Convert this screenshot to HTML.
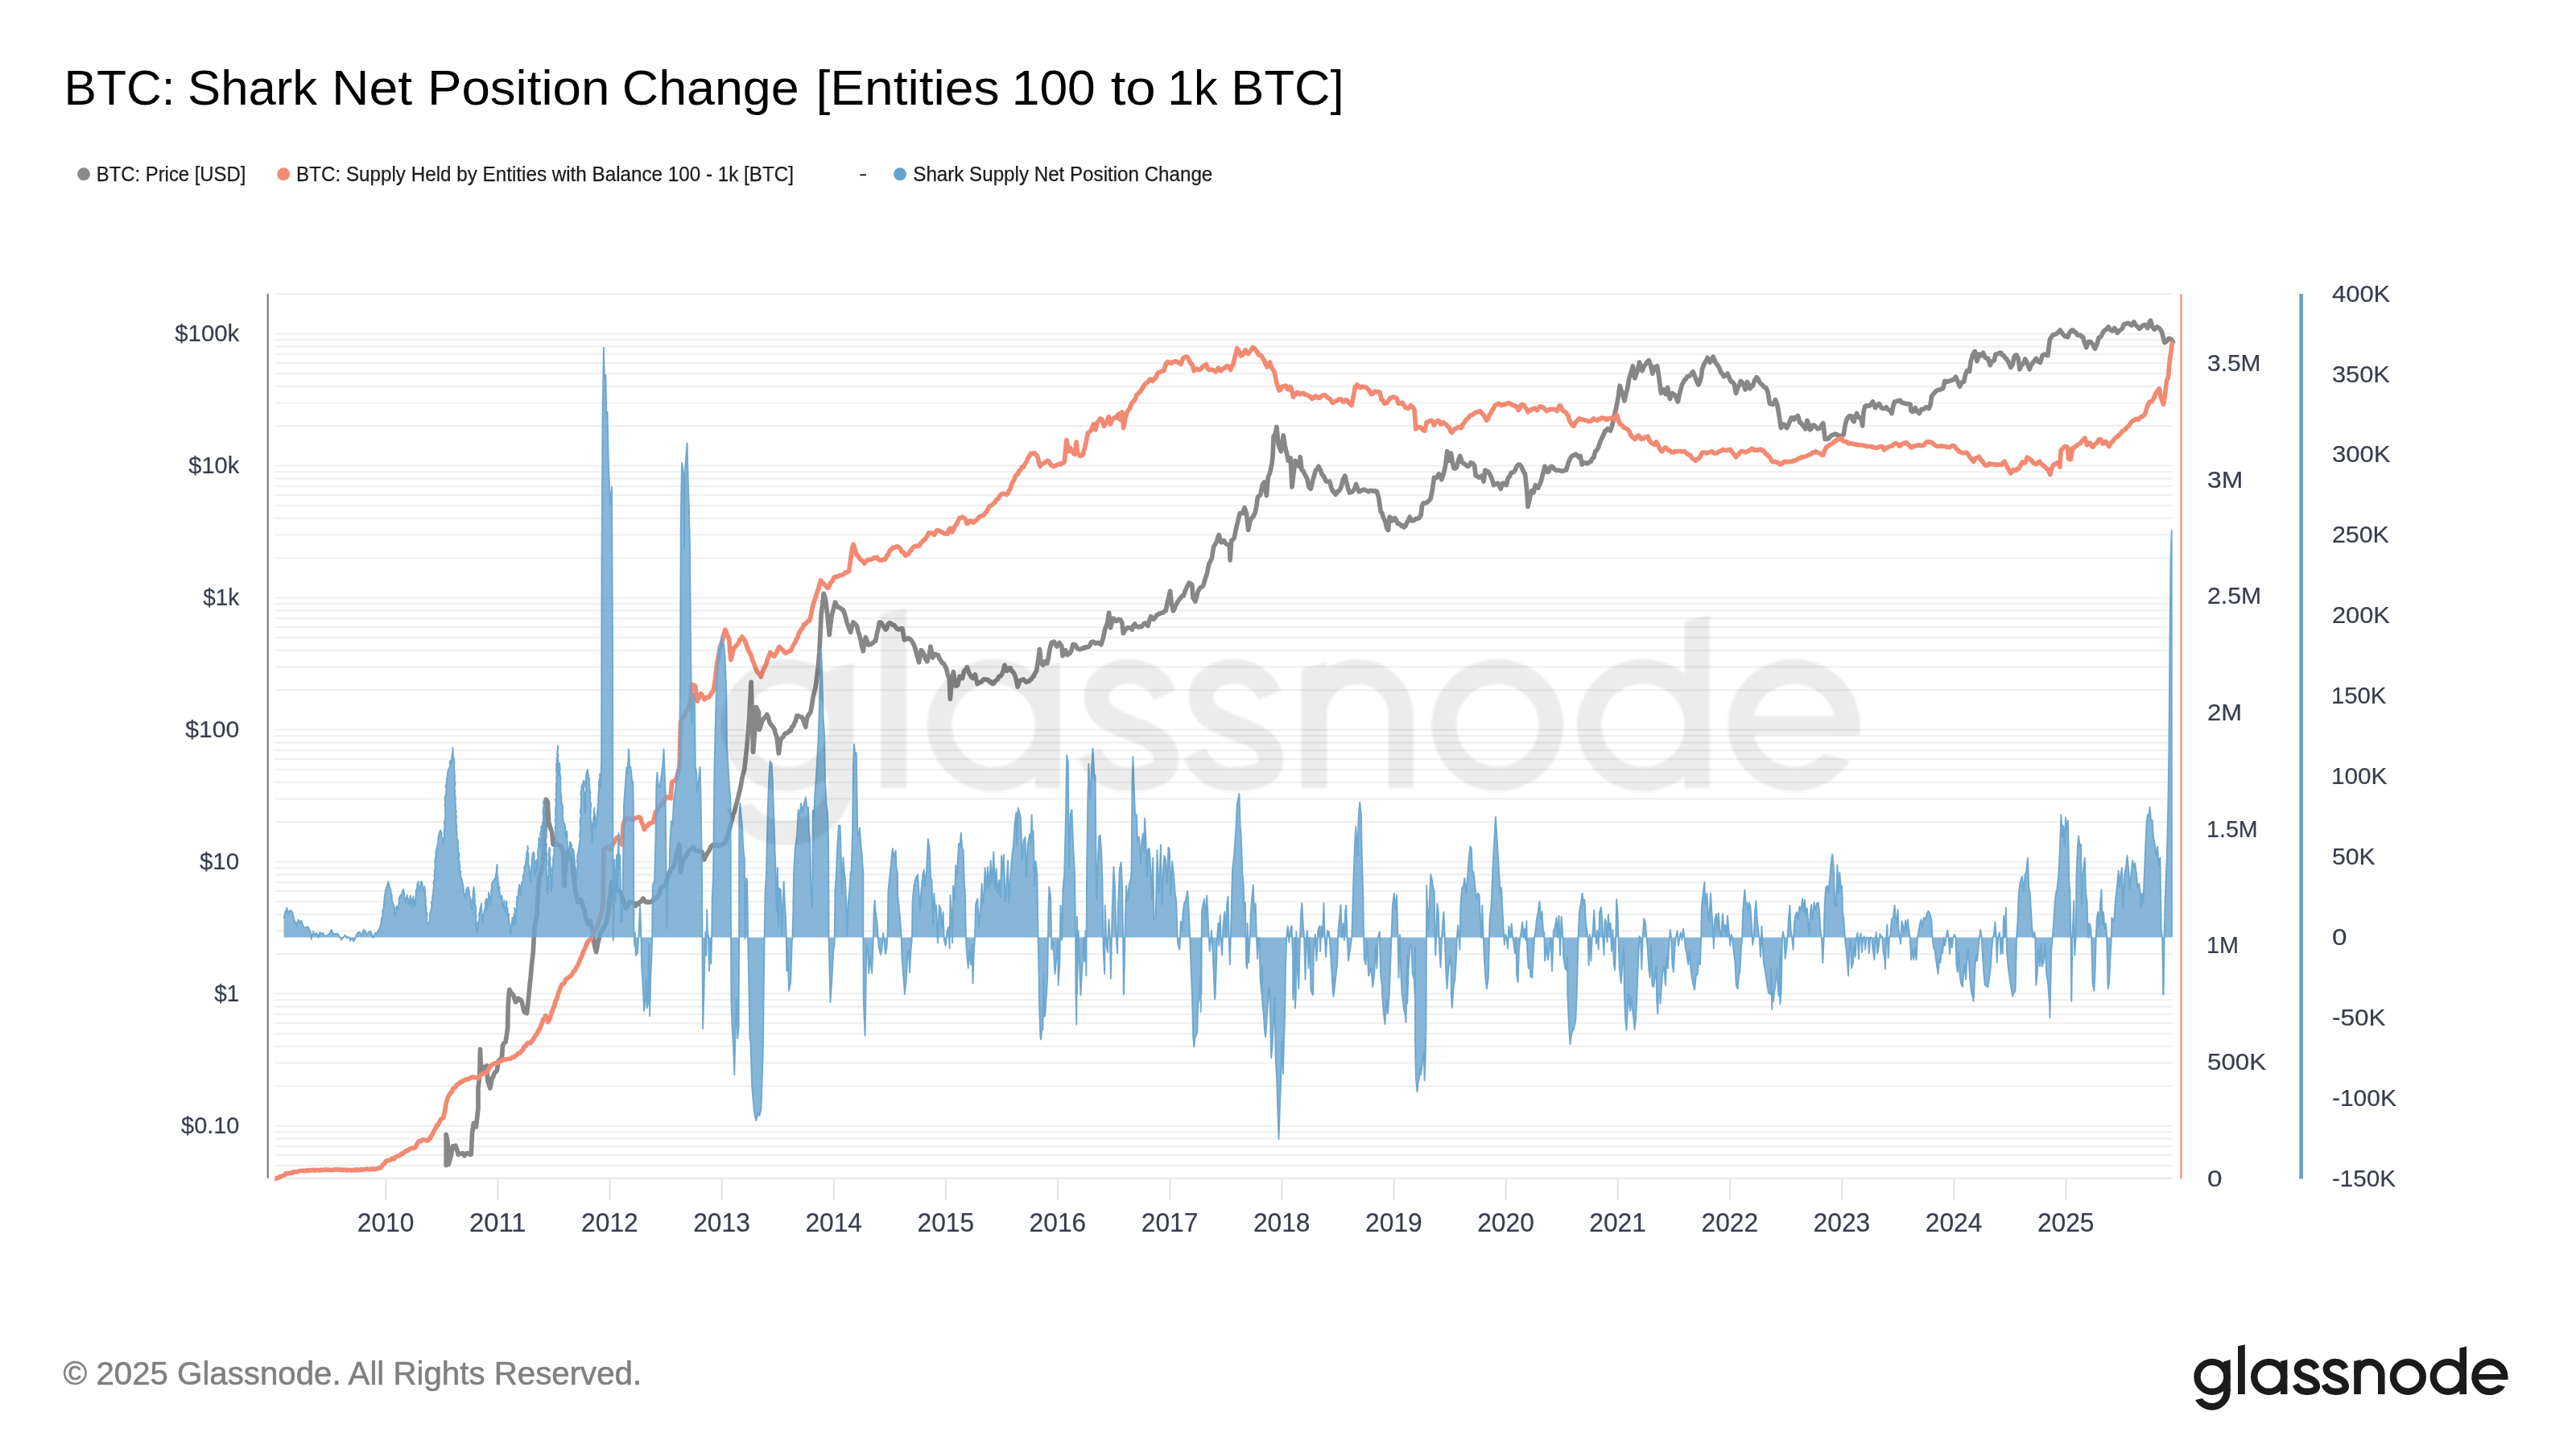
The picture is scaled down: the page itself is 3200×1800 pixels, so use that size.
<!DOCTYPE html>
<html><head><meta charset="utf-8"><title>BTC: Shark Net Position Change</title>
<style>html,body{margin:0;padding:0;background:#fff;width:3200px;height:1800px;overflow:hidden}</style></head>
<body>
<svg width="3200" height="1800" viewBox="0 0 3200 1800" style="display:block;font-family:'Liberation Sans',sans-serif;will-change:transform;transform:translateZ(0)">
<rect width="3200" height="1800" fill="#fff"/>
<path d="M341.3 1448.0H2698.6M341.3 1435.0H2698.6M341.3 1424.0H2698.6M341.3 1414.5H2698.6M341.3 1406.1H2698.6M341.3 1398.6H2698.6M341.3 1349.2H2698.6M341.3 1320.4H2698.6M341.3 1299.9H2698.6M341.3 1284.0H2698.6M341.3 1271.0H2698.6M341.3 1260.0H2698.6M341.3 1250.5H2698.6M341.3 1242.1H2698.6M341.3 1234.6H2698.6M341.3 1185.2H2698.6M341.3 1156.4H2698.6M341.3 1135.9H2698.6M341.3 1120.0H2698.6M341.3 1107.0H2698.6M341.3 1096.0H2698.6M341.3 1086.5H2698.6M341.3 1078.1H2698.6M341.3 1070.6H2698.6M341.3 1021.2H2698.6M341.3 992.4H2698.6M341.3 971.9H2698.6M341.3 956.0H2698.6M341.3 943.0H2698.6M341.3 932.0H2698.6M341.3 922.5H2698.6M341.3 914.1H2698.6M341.3 906.6H2698.6M341.3 857.2H2698.6M341.3 828.4H2698.6M341.3 807.9H2698.6M341.3 792.0H2698.6M341.3 779.0H2698.6M341.3 768.0H2698.6M341.3 758.5H2698.6M341.3 750.1H2698.6M341.3 742.6H2698.6M341.3 693.2H2698.6M341.3 664.4H2698.6M341.3 643.9H2698.6M341.3 628.0H2698.6M341.3 615.0H2698.6M341.3 604.0H2698.6M341.3 594.5H2698.6M341.3 586.1H2698.6M341.3 578.6H2698.6M341.3 529.2H2698.6M341.3 500.4H2698.6M341.3 479.9H2698.6M341.3 464.0H2698.6M341.3 451.0H2698.6M341.3 440.0H2698.6M341.3 430.5H2698.6M341.3 422.1H2698.6M341.3 414.6H2698.6M341.3 365.2H2698.6" stroke="#f1f1f1" stroke-width="2.4" fill="none"/>
<path d="M341.3 1463.6H2698.6" stroke="#e3e3e3" stroke-width="1.9" fill="none"/>
<defs><clipPath id="plotclip"><rect x="341.3" y="300" width="2366" height="1200"/></clipPath></defs>
<g clip-path="url(#plotclip)">
<path d="M554.2 1447.5L554.2 1409.3L556.1 1418.6L557.3 1446.5L558.9 1440.1L560.4 1435.7L562.3 1423.9L564.2 1423.6L566.0 1423.2L567.6 1428.2L569.1 1434.1L570.7 1433.8L572.2 1433.3L573.8 1432.5L575.3 1432.8L576.9 1435.7L578.9 1432.8L580.9 1432.5L583.1 1433.9L585.3 1434.1L586.5 1407.7L588.4 1395.3L589.9 1396.7L591.5 1399.9L594.0 1376.6L594.0 1351.8L595.8 1336.3L596.5 1303.7L597.7 1333.2L599.3 1328.3L600.8 1325.4L602.8 1325.6L604.8 1323.9L605.8 1342.5L607.3 1347.0L608.9 1351.8L611.1 1339.4L612.6 1337.5L614.2 1333.2L615.7 1331.5L617.3 1330.1L619.4 1317.6L621.5 1315.8L623.5 1313.0L624.4 1299.0L626.3 1295.5L628.1 1294.3L630.6 1277.3L631.2 1249.3L631.9 1238.6L632.8 1229.3L634.3 1231.8L635.9 1234.7L637.5 1235.5L639.0 1240.2L640.6 1244.8L642.1 1243.3L643.7 1240.1L645.2 1242.2L646.8 1241.9L648.3 1244.8L649.9 1251.9L651.4 1257.2L653.0 1258.2L654.5 1258.8L656.1 1244.8L657.6 1228.5L659.2 1213.7L660.7 1196.5L662.3 1182.7L663.9 1151.6L665.4 1145.2L667.0 1136.1L668.5 1108.1L670.1 1089.5L671.6 1084.7L673.2 1080.2L675.3 1058.4L677.2 1027.4L678.4 993.2L680.3 996.3L681.6 1021.2L683.4 1027.4L685.6 1033.6L687.1 1049.1L688.7 1049.0L690.2 1048.8L691.8 1047.6L693.4 1049.1L694.9 1050.7L696.5 1050.7L698.0 1054.2L699.6 1058.4L701.1 1100.4L702.7 1074.0L704.2 1067.3L705.8 1058.4L707.3 1061.4L708.9 1066.2L710.4 1067.8L712.6 1089.5L715.1 1108.1L717.6 1120.6L719.4 1120.0L721.3 1117.5L722.9 1120.7L724.4 1126.8L726.0 1131.7L727.5 1139.2L729.1 1142.8L730.6 1148.5L733.1 1143.9L734.7 1151.0L736.2 1154.7L738.4 1173.4L740.6 1182.7L743.0 1170.2L744.6 1163.8L746.1 1157.8L747.7 1156.2L749.3 1153.0L750.8 1151.6L752.4 1147.8L753.9 1143.9L756.1 1129.9L758.6 1108.1L760.1 1095.7L761.7 1096.9L763.2 1098.8L764.8 1101.4L766.3 1105.0L768.4 1106.8L770.4 1108.1L772.2 1113.1L774.1 1117.5L775.7 1124.3L777.2 1128.3L778.8 1126.4L780.3 1124.7L781.9 1120.6L783.4 1121.0L785.0 1121.1L786.5 1120.6L788.1 1123.5L789.6 1125.2L791.2 1122.7L792.7 1123.2L794.3 1120.6L795.8 1120.4L797.4 1118.7L798.9 1115.9L800.5 1118.5L802.0 1120.6L803.6 1120.8L805.2 1120.2L806.7 1121.0L808.3 1120.6L809.8 1119.7L811.4 1118.0L812.9 1117.5L814.5 1114.6L816.0 1115.4L817.6 1112.8L819.1 1109.9L820.7 1103.5L822.2 1101.3L823.8 1101.9L825.3 1099.8L826.9 1098.8L828.4 1092.9L830.0 1089.5L831.6 1084.1L833.1 1080.2L834.7 1079.1L836.2 1077.4L837.8 1074.0L839.3 1064.6L840.9 1058.4L842.4 1054.2L844.0 1049.1L845.5 1083.3L848.0 1070.9L849.9 1066.1L851.7 1064.7L853.3 1062.3L854.8 1057.8L856.4 1055.3L858.0 1055.2L859.5 1054.4L861.1 1052.2L862.6 1053.8L864.2 1056.8L865.7 1056.9L867.3 1057.0L868.8 1057.0L870.4 1058.2L871.9 1058.4L873.5 1061.4L875.0 1067.8L876.6 1063.6L878.1 1061.2L879.7 1058.4L881.2 1056.3L882.8 1052.0L884.3 1050.7L885.9 1049.3L887.5 1050.3L889.0 1049.1L890.6 1049.2L892.1 1050.7L893.7 1050.9L895.2 1050.7L896.8 1049.2L898.3 1048.3L899.9 1047.2L901.4 1046.0L903.0 1041.4L904.5 1036.0L906.1 1030.5L907.6 1024.5L909.2 1018.5L910.7 1011.9L912.3 1008.3L913.9 1001.5L915.4 996.3L917.0 989.9L918.5 983.9L920.1 976.9L921.6 968.4L923.2 961.2L924.7 956.0L926.3 941.3L927.8 928.0L929.4 909.5L930.9 887.6L933.1 847.3L935.6 934.2L938.1 903.2L939.3 878.3L940.9 881.5L942.4 884.5L943.4 906.3L944.9 902.3L946.5 896.2L948.0 893.9L949.6 891.5L951.1 890.0L952.7 887.6L954.2 890.6L955.8 897.0L957.3 899.4L958.9 901.6L960.4 903.2L962.0 905.7L963.5 911.9L965.1 915.6L967.3 935.8L969.8 918.7L971.3 916.6L972.9 915.4L974.4 912.4L976.0 910.9L977.5 910.6L979.1 909.9L980.6 907.6L982.2 907.8L983.7 903.1L985.3 902.2L986.8 898.5L988.4 895.5L989.9 889.2L991.5 889.2L993.0 889.9L994.6 890.5L996.1 890.7L997.7 894.2L999.3 898.5L1000.8 903.2L1002.4 892.3L1003.9 889.0L1005.5 886.7L1007.0 884.5L1008.6 875.6L1010.1 865.9L1011.7 859.0L1013.2 853.5L1014.8 840.6L1016.3 828.6L1017.9 810.0L1020.1 763.7L1021.6 751.5L1023.2 737.3L1025.7 745.1L1028.1 766.8L1030.3 788.6L1031.9 774.4L1033.4 763.7L1035.4 756.2L1037.5 748.2L1039.3 752.2L1041.2 754.4L1042.7 754.8L1044.3 755.4L1045.8 757.4L1047.4 757.5L1048.9 761.8L1050.5 766.7L1052.0 773.0L1053.6 777.0L1055.2 782.0L1056.7 785.5L1058.3 777.8L1059.8 773.0L1061.4 774.1L1062.9 775.7L1064.5 777.7L1066.0 784.6L1067.6 788.9L1069.1 794.8L1070.7 803.1L1072.2 808.8L1073.8 799.0L1075.3 791.7L1076.9 795.7L1078.4 801.0L1080.0 800.7L1081.6 800.7L1083.1 799.4L1084.7 798.3L1086.2 796.7L1087.8 796.3L1089.3 787.2L1090.9 780.9L1092.4 773.0L1094.0 773.2L1095.5 774.6L1097.1 778.0L1098.6 779.3L1100.0 782.1L1101.6 780.6L1103.1 775.5L1104.7 773.9L1106.6 774.3L1108.5 776.1L1110.5 776.3L1112.4 778.6L1114.4 781.1L1116.3 782.1L1117.9 781.4L1119.4 780.7L1121.0 780.9L1123.3 794.9L1124.8 793.7L1126.4 794.0L1128.0 792.6L1129.5 793.1L1131.1 794.5L1132.6 796.1L1134.4 799.3L1136.1 803.0L1138.4 811.2L1139.9 816.7L1141.5 822.8L1144.3 807.7L1146.0 809.7L1147.7 812.4L1149.7 818.5L1151.7 821.7L1153.2 815.8L1154.7 812.4L1155.9 803.0L1158.7 817.0L1160.2 812.9L1161.7 812.4L1163.5 813.7L1165.2 813.5L1167.0 818.4L1168.7 820.5L1170.5 823.7L1172.2 824.0L1174.0 827.3L1175.7 831.0L1177.4 838.4L1179.2 842.6L1180.4 868.3L1182.0 849.6L1184.3 834.5L1186.6 852.0L1188.2 852.2L1189.7 850.8L1192.0 840.3L1193.8 840.8L1195.5 842.6L1197.8 833.3L1199.6 831.9L1201.3 828.7L1203.1 834.5L1204.8 838.0L1206.6 840.9L1208.3 842.6L1209.8 840.4L1211.3 838.0L1214.1 849.6L1215.7 848.4L1217.2 847.7L1218.8 847.3L1220.3 845.4L1221.9 843.9L1223.4 843.8L1225.0 844.3L1226.6 844.2L1228.1 845.0L1229.7 847.5L1231.2 846.7L1232.8 849.6L1234.3 849.3L1235.9 847.1L1237.4 845.0L1239.2 844.2L1240.9 840.3L1242.7 840.1L1244.4 838.0L1246.2 833.6L1247.9 826.3L1249.4 830.1L1250.9 833.3L1253.7 829.8L1255.3 829.9L1256.8 833.7L1258.4 834.5L1260.1 837.4L1261.9 842.6L1264.2 853.1L1266.0 848.3L1267.7 845.0L1269.4 844.7L1271.2 843.8L1272.9 845.6L1274.7 847.3L1276.2 846.3L1277.8 846.7L1279.3 845.0L1280.9 843.8L1282.5 841.4L1284.0 840.3L1285.8 835.9L1287.5 833.3L1289.8 819.3L1291.5 806.5L1293.3 824.0L1295.7 826.3L1298.0 821.7L1300.8 824.0L1302.3 817.2L1303.8 807.7L1306.1 798.4L1307.9 797.8L1309.6 797.2L1311.4 801.1L1313.1 803.0L1314.6 800.2L1316.1 798.4L1318.9 803.0L1320.1 814.7L1321.9 810.1L1323.6 807.7L1325.9 813.5L1327.7 812.4L1329.4 811.2L1331.2 807.1L1332.9 800.7L1334.7 800.7L1336.4 801.9L1338.2 805.3L1339.9 806.5L1341.5 806.8L1343.0 806.3L1344.6 805.4L1346.1 805.5L1347.7 803.8L1349.2 804.2L1350.8 803.7L1352.3 803.4L1353.9 801.9L1355.6 797.9L1357.4 797.2L1359.1 797.8L1360.9 799.5L1362.6 798.6L1364.4 798.4L1366.1 799.6L1367.9 800.7L1370.2 793.7L1372.5 782.1L1375.3 775.1L1377.6 761.1L1379.5 779.8L1381.2 773.7L1383.0 768.1L1384.7 769.8L1386.5 771.6L1388.2 771.1L1390.0 769.3L1392.0 769.9L1393.9 773.9L1395.3 786.7L1398.1 782.1L1399.7 780.4L1401.2 779.7L1402.8 779.8L1404.5 780.0L1406.3 782.1L1408.0 777.0L1409.8 775.1L1411.5 778.3L1413.3 778.6L1414.8 779.0L1416.4 778.1L1417.9 778.6L1419.5 777.0L1421.0 774.9L1422.6 773.9L1424.3 775.1L1426.1 777.4L1427.8 771.1L1429.6 765.8L1431.3 768.0L1433.1 769.3L1434.8 767.3L1436.6 764.6L1438.1 763.5L1439.7 762.4L1441.2 762.3L1443.0 761.4L1444.7 761.1L1446.5 759.1L1448.2 758.8L1450.5 747.1L1452.1 740.9L1453.6 734.3L1455.2 749.5L1457.5 758.8L1459.0 756.1L1460.6 751.8L1463.4 747.1L1465.1 744.4L1466.8 742.5L1468.6 740.3L1470.3 740.2L1472.1 734.3L1473.8 730.8L1475.6 726.9L1477.3 723.9L1479.1 725.3L1480.8 726.2L1482.0 742.5L1484.8 747.1L1486.3 742.3L1487.8 735.5L1489.6 732.2L1491.3 729.7L1493.1 729.2L1494.8 727.3L1497.1 719.2L1499.5 712.2L1501.8 700.6L1503.5 697.5L1505.3 693.6L1507.6 679.6L1509.4 676.4L1511.1 673.8L1512.6 668.7L1514.1 664.5L1516.9 673.8L1518.7 672.6L1520.4 671.4L1522.2 674.5L1523.9 676.1L1525.7 677.1L1527.4 678.4L1528.1 695.9L1529.7 671.4L1531.5 670.3L1533.2 668.0L1535.6 656.3L1537.9 647.0L1540.2 637.6L1542.0 637.5L1543.7 637.6L1546.0 630.6L1548.4 637.6L1550.7 658.5L1553.0 646.9L1554.8 643.6L1556.5 642.2L1559.3 636.4L1561.2 625.9L1562.3 617.8L1564.1 616.1L1565.8 614.3L1568.2 602.6L1570.5 599.1L1573.3 615.5L1575.2 593.3L1577.5 587.5L1579.8 577.0L1581.0 567.7L1582.1 542.1L1584.0 539.8L1585.9 530.4L1588.0 551.4L1589.7 556.8L1591.5 560.7L1594.3 540.9L1596.1 553.7L1598.4 563.0L1600.3 572.4L1603.1 568.9L1605.0 605.0L1606.6 591.0L1608.9 572.4L1611.3 574.7L1613.6 579.3L1615.2 567.7L1617.1 584.0L1618.8 584.8L1620.6 588.7L1622.3 591.9L1624.1 595.7L1625.9 605.0L1628.3 607.3L1631.1 595.7L1632.8 589.6L1634.5 584.0L1636.3 583.0L1638.0 579.3L1640.4 584.0L1642.1 589.1L1643.9 591.0L1645.6 594.0L1647.4 598.0L1649.5 598.5L1651.6 598.0L1654.3 607.3L1655.9 610.7L1657.5 611.1L1659.0 614.3L1660.6 612.6L1662.1 610.0L1663.7 609.6L1666.0 605.0L1668.3 595.7L1670.7 591.0L1673.0 600.3L1674.7 607.3L1676.5 612.0L1678.0 611.5L1679.6 611.2L1681.1 609.6L1682.9 606.6L1684.6 601.5L1686.4 606.7L1688.1 610.8L1689.7 610.5L1691.2 609.4L1692.8 608.5L1694.7 608.2L1696.7 609.4L1698.6 609.6L1700.0 610.8L1701.6 609.6L1703.1 609.4L1704.7 609.6L1706.6 610.4L1708.5 609.7L1710.5 610.8L1712.8 618.9L1715.1 635.2L1716.7 637.3L1718.2 642.2L1720.5 646.9L1722.8 656.2L1724.5 658.5L1726.1 642.2L1727.6 643.1L1729.1 646.9L1730.9 646.3L1732.6 643.4L1734.4 645.7L1736.1 650.4L1737.8 650.1L1739.6 651.6L1741.1 653.6L1742.7 652.9L1744.3 655.0L1746.0 653.4L1747.7 649.2L1749.5 646.4L1751.2 642.2L1753.6 646.9L1755.1 646.8L1756.7 646.3L1758.2 644.6L1759.8 644.3L1761.3 644.3L1762.9 643.4L1765.2 639.9L1766.4 628.3L1768.1 625.1L1769.9 624.8L1771.6 624.7L1773.4 623.6L1775.1 621.9L1776.9 620.1L1779.2 609.6L1781.5 593.3L1783.3 593.6L1785.0 593.3L1787.3 588.7L1789.1 590.7L1790.8 595.7L1793.2 588.7L1795.5 579.3L1797.8 560.7L1800.2 572.4L1802.5 563.0L1804.2 573.3L1806.0 581.7L1807.7 581.9L1809.5 580.5L1811.6 571.9L1813.7 566.5L1816.5 574.7L1818.2 575.4L1820.0 577.0L1821.7 578.3L1823.4 579.3L1825.2 578.2L1826.9 574.7L1828.5 575.2L1830.0 576.2L1831.6 578.2L1833.2 591.0L1835.3 591.6L1837.4 593.3L1839.2 592.4L1840.9 591.0L1843.2 598.0L1844.9 584.0L1847.0 585.7L1849.1 586.3L1850.8 589.4L1852.6 593.3L1854.1 597.5L1855.6 602.6L1857.3 601.7L1859.0 600.8L1860.7 600.3L1862.5 603.5L1864.2 607.3L1866.5 600.3L1868.1 600.2L1869.6 601.9L1871.2 602.6L1873.5 593.3L1875.3 592.1L1877.0 587.5L1878.8 586.8L1880.5 586.3L1882.3 583.7L1884.0 579.3L1886.3 577.0L1888.1 577.4L1889.8 579.3L1891.4 583.1L1892.9 586.5L1894.5 588.7L1896.8 609.6L1898.0 629.4L1900.3 618.9L1902.6 609.6L1905.0 612.0L1907.3 602.6L1909.0 604.9L1910.8 606.1L1912.5 602.1L1914.3 598.0L1916.0 590.9L1917.8 584.0L1918.9 579.3L1920.7 583.4L1922.4 586.3L1924.0 585.4L1925.5 580.4L1927.1 579.3L1928.8 579.9L1930.6 582.8L1932.1 583.6L1933.7 584.3L1935.2 584.0L1936.8 584.4L1938.4 584.7L1939.9 585.2L1941.8 585.1L1943.8 583.9L1945.7 584.0L1947.5 577.3L1949.2 572.4L1951.6 567.7L1953.5 565.9L1955.4 565.6L1957.4 564.2L1959.1 565.4L1960.9 567.7L1963.2 566.5L1965.1 577.0L1967.9 574.7L1969.6 574.8L1971.4 575.9L1973.1 575.1L1974.8 573.5L1976.4 573.3L1978.0 569.8L1979.5 568.9L1981.8 560.7L1983.6 559.1L1985.3 556.1L1987.7 549.1L1989.4 545.3L1991.1 542.1L1993.9 535.1L1995.5 534.8L1997.0 532.8L1998.7 534.1L2000.5 535.1L2002.8 528.1L2005.1 518.8L2006.9 509.8L2008.6 502.5L2010.2 493.2L2012.1 479.2L2014.4 486.2L2016.2 491.0L2017.9 497.8L2019.7 489.1L2021.4 483.9L2023.8 469.9L2026.1 462.9L2028.4 454.7L2030.7 469.9L2032.5 465.1L2034.2 460.6L2036.6 450.1L2038.3 454.9L2040.1 460.6L2041.8 455.9L2043.6 453.6L2045.1 451.1L2046.7 449.1L2048.2 447.7L2050.5 453.6L2052.9 464.1L2055.2 455.9L2056.9 455.8L2058.7 454.7L2061.0 469.9L2063.4 488.5L2065.1 484.9L2066.8 483.9L2069.2 489.7L2071.5 481.5L2073.0 490.3L2074.5 495.5L2077.3 488.5L2079.1 489.6L2080.8 490.8L2082.6 495.3L2084.3 499.0L2086.6 488.5L2089.4 478.0L2091.0 475.0L2092.5 472.2L2094.2 471.1L2096.0 467.5L2097.7 467.5L2099.5 466.4L2101.2 464.3L2103.0 461.7L2104.7 465.7L2106.4 469.9L2108.2 474.7L2109.9 478.0L2111.7 474.1L2113.4 467.5L2114.6 458.2L2116.3 453.8L2118.1 450.1L2119.6 448.0L2121.1 444.3L2123.9 450.1L2126.0 448.2L2128.1 443.1L2130.9 450.1L2132.6 452.3L2134.4 454.7L2136.1 457.8L2137.9 462.9L2139.6 464.3L2141.4 467.5L2142.9 466.9L2144.5 465.7L2146.0 464.1L2148.4 469.9L2150.1 473.9L2151.9 474.5L2154.2 476.9L2156.5 488.5L2159.3 480.4L2160.8 478.1L2162.3 473.4L2164.1 474.8L2165.8 478.0L2168.2 483.9L2170.5 474.5L2172.2 477.5L2174.0 482.7L2175.7 480.2L2177.5 479.2L2179.8 472.2L2182.1 468.7L2183.9 470.5L2185.6 474.5L2187.4 476.9L2189.1 478.0L2190.7 480.1L2192.2 481.4L2193.8 481.5L2196.1 487.3L2198.4 501.3L2200.2 501.5L2201.9 502.5L2203.7 500.9L2205.4 496.7L2207.8 502.5L2210.1 516.5L2212.4 531.6L2214.2 528.6L2215.9 526.9L2217.7 529.0L2219.4 531.6L2221.2 528.9L2222.9 524.6L2225.2 518.8L2227.0 519.0L2228.7 521.1L2230.3 518.3L2231.8 519.0L2233.4 516.5L2235.7 524.6L2237.5 525.7L2239.2 528.1L2241.0 529.9L2242.7 532.8L2245.0 522.3L2246.8 528.4L2248.5 533.9L2250.1 532.6L2251.6 528.3L2253.2 528.1L2254.7 529.2L2256.3 531.0L2257.8 532.8L2259.6 532.2L2261.3 531.6L2263.1 527.6L2264.8 525.8L2267.2 545.6L2268.7 545.3L2270.3 545.5L2271.8 544.4L2273.6 542.3L2275.3 540.9L2277.1 540.2L2278.8 539.3L2280.3 539.1L2281.9 539.9L2283.4 540.8L2285.6 541.5L2287.7 541.7L2290.2 540.0L2292.0 528.9L2293.7 522.0L2296.2 517.7L2297.9 516.7L2299.6 516.9L2301.4 521.7L2303.1 523.7L2304.8 516.9L2306.5 513.5L2308.2 517.5L2309.9 518.6L2312.5 522.0L2313.6 528.9L2315.0 511.8L2316.7 504.9L2318.4 503.8L2320.1 504.1L2321.8 504.4L2323.6 503.2L2326.5 499.0L2328.0 502.3L2329.5 506.6L2332.1 503.2L2334.3 501.5L2337.2 506.6L2338.9 507.5L2340.6 507.5L2343.2 505.8L2344.9 508.3L2346.6 509.2L2348.3 510.6L2350.0 513.5L2351.7 504.9L2353.4 499.0L2355.2 498.8L2356.9 498.1L2358.6 497.9L2360.3 497.3L2362.0 499.9L2363.7 500.7L2365.4 500.7L2367.1 501.5L2368.8 501.8L2370.5 501.5L2373.1 502.4L2373.9 510.1L2375.7 511.3L2377.4 510.9L2379.1 506.6L2380.8 509.8L2382.5 511.8L2384.2 513.5L2386.8 508.4L2389.3 508.4L2391.0 507.2L2392.7 505.8L2394.4 505.8L2396.1 507.5L2397.9 503.2L2399.6 492.1L2401.3 490.0L2403.0 487.9L2405.1 485.8L2407.3 484.4L2409.0 484.4L2410.7 483.6L2412.4 483.1L2414.1 481.9L2415.8 473.3L2418.4 474.2L2420.1 473.9L2421.8 473.3L2423.5 472.4L2425.2 472.5L2427.7 470.8L2429.5 468.2L2432.0 474.2L2434.6 480.2L2437.1 475.0L2439.7 474.2L2441.4 465.7L2443.6 460.5L2446.5 461.4L2448.2 448.6L2450.0 442.6L2451.7 438.3L2453.4 436.6L2455.9 448.6L2458.5 440.0L2461.1 441.7L2463.6 438.3L2466.2 444.3L2467.9 445.0L2469.6 445.2L2472.2 453.7L2474.7 448.6L2477.3 447.7L2479.0 440.0L2480.7 439.8L2482.4 439.2L2484.1 438.2L2485.8 438.3L2487.5 441.2L2489.2 441.7L2490.9 444.4L2492.7 446.0L2495.2 450.3L2497.8 456.3L2500.3 452.8L2502.0 443.4L2504.6 440.9L2507.2 445.2L2508.9 458.8L2510.6 454.5L2512.3 452.8L2514.0 451.0L2515.7 446.0L2518.3 451.1L2521.2 458.8L2522.7 454.1L2524.3 452.0L2526.8 448.6L2529.4 445.2L2531.9 449.4L2534.5 450.3L2537.1 441.7L2538.8 440.5L2540.5 440.0L2542.2 441.3L2543.9 441.7L2544.8 433.2L2546.5 421.2L2548.2 419.0L2549.9 416.1L2551.6 415.8L2553.3 415.3L2555.0 414.4L2556.7 412.7L2559.3 410.1L2561.8 414.4L2563.5 416.0L2565.2 417.8L2567.0 417.9L2568.7 418.7L2571.2 412.7L2573.8 410.1L2575.5 410.6L2577.2 412.7L2578.9 413.1L2580.6 416.1L2582.3 416.4L2584.0 416.1L2585.7 418.0L2587.5 418.7L2589.2 424.7L2591.7 431.5L2594.3 424.7L2596.8 424.7L2599.4 427.2L2600.9 430.4L2602.5 433.2L2605.4 426.4L2607.1 419.5L2608.8 418.9L2610.5 417.0L2613.1 411.8L2614.8 410.2L2616.5 409.3L2619.1 405.9L2621.6 410.1L2624.2 411.0L2626.7 407.6L2628.4 409.7L2630.2 413.6L2631.9 411.5L2633.6 410.1L2636.1 408.4L2638.7 402.5L2640.4 402.6L2642.1 401.6L2643.8 401.3L2645.5 402.5L2648.1 404.2L2650.7 399.9L2652.4 402.5L2654.1 405.0L2655.8 406.0L2657.5 408.4L2659.2 407.5L2660.9 405.0L2662.6 403.9L2664.3 403.3L2666.0 404.9L2667.7 407.6L2670.3 399.9L2671.5 398.2L2673.7 405.9L2676.3 409.3L2678.0 407.3L2679.7 405.9L2681.4 407.3L2683.1 408.4L2685.7 412.7L2687.4 420.4L2689.1 425.5L2691.6 423.8L2694.2 420.4L2696.8 421.2L2699.3 424.7" fill="none" stroke="#878787" stroke-width="5.7" stroke-linejoin="round" stroke-linecap="round"/>
<path d="M341.8 1464.2L343.5 1463.6L345.2 1463.1L346.9 1462.4L348.6 1461.1L350.2 1461.2L351.7 1460.2L353.3 1459.9L354.8 1457.9L356.4 1458.0L358.0 1457.4L359.5 1457.6L361.1 1457.0L362.6 1457.1L364.2 1455.9L365.7 1456.1L367.3 1455.5L368.8 1455.6L370.4 1455.4L371.9 1454.5L373.5 1454.5L375.0 1454.3L376.6 1454.3L378.1 1454.6L379.7 1454.4L381.2 1453.8L382.8 1454.3L384.3 1453.6L385.9 1454.0L387.5 1453.5L389.0 1453.3L390.6 1454.1L392.1 1453.4L393.7 1453.3L395.2 1454.0L396.8 1453.8L398.3 1453.2L399.9 1453.8L401.4 1453.3L403.0 1453.4L404.5 1452.9L406.1 1453.5L407.6 1453.0L409.2 1453.3L410.7 1453.5L412.3 1453.5L413.9 1453.0L415.4 1453.1L417.0 1452.9L418.5 1452.9L420.1 1452.9L421.6 1453.1L423.2 1453.5L424.7 1452.9L426.3 1453.6L427.8 1453.3L429.4 1453.3L430.9 1453.8L432.5 1453.5L434.0 1453.4L435.6 1453.6L437.1 1453.8L438.7 1453.7L440.2 1453.1L441.8 1454.0L443.4 1452.9L444.9 1453.6L446.5 1453.6L448.0 1452.7L449.6 1453.3L451.1 1452.8L452.7 1452.9L454.2 1452.3L455.8 1452.2L457.3 1452.3L458.9 1453.0L460.4 1452.4L462.1 1451.9L463.8 1452.3L465.5 1452.3L467.2 1452.2L468.9 1451.4L470.6 1451.2L472.2 1451.2L474.1 1448.9L476.0 1446.5L477.5 1445.7L479.1 1442.4L480.6 1441.9L482.2 1441.7L483.7 1441.3L485.3 1440.9L486.8 1439.2L488.4 1439.4L489.9 1439.3L491.5 1436.9L493.0 1436.5L494.6 1436.1L496.1 1435.7L497.7 1434.1L499.3 1432.9L500.8 1433.1L502.4 1431.5L503.9 1430.2L505.5 1429.4L507.0 1428.8L508.6 1427.6L510.1 1426.8L511.7 1426.2L513.2 1426.4L514.8 1426.2L516.3 1424.8L517.9 1421.3L519.4 1418.6L521.0 1417.6L522.5 1417.8L524.1 1416.4L525.7 1415.8L527.5 1416.1L529.4 1416.3L531.2 1417.0L533.0 1415.0L534.8 1413.4L536.5 1410.2L538.1 1407.1L539.6 1404.1L541.2 1401.5L542.7 1397.5L544.3 1397.6L545.8 1393.7L547.6 1390.4L549.4 1389.6L551.1 1387.5L552.7 1380.1L554.2 1370.4L556.2 1363.8L558.3 1359.6L559.8 1357.9L561.4 1356.2L562.9 1352.4L564.5 1351.4L566.0 1350.4L567.6 1347.4L569.1 1346.8L570.7 1345.6L572.2 1344.0L573.8 1344.4L575.3 1342.4L576.9 1341.8L578.4 1340.9L580.0 1341.1L581.6 1340.4L583.1 1340.1L584.7 1338.8L586.2 1338.3L587.8 1337.8L589.3 1338.5L590.9 1338.6L592.4 1338.7L594.0 1339.4L595.5 1337.6L597.1 1335.4L598.6 1334.4L600.2 1333.2L601.7 1333.4L603.3 1332.8L604.8 1331.6L606.4 1329.4L608.0 1326.4L609.5 1323.9L611.1 1322.8L612.6 1321.7L614.2 1321.2L615.7 1321.3L617.3 1320.1L618.8 1320.0L620.4 1318.3L621.9 1318.2L623.5 1317.4L625.0 1316.1L626.6 1316.1L628.1 1316.0L629.7 1315.9L631.2 1315.3L632.8 1315.5L634.3 1315.2L635.9 1313.8L637.5 1313.3L639.0 1312.9L640.6 1311.4L642.1 1310.6L643.7 1308.5L645.2 1308.7L646.8 1306.8L648.3 1305.2L649.9 1303.5L651.4 1299.8L653.0 1299.4L654.5 1296.5L656.1 1295.3L657.6 1295.8L659.2 1295.9L660.7 1293.2L662.3 1291.7L663.9 1288.1L665.4 1286.3L667.0 1284.4L668.5 1280.7L670.1 1278.8L671.6 1275.1L673.2 1271.3L674.7 1266.4L676.3 1265.1L677.8 1261.7L679.4 1265.1L680.9 1269.5L682.5 1266.5L684.0 1262.4L685.6 1257.1L687.1 1253.0L688.7 1249.3L690.2 1243.1L691.8 1240.3L693.4 1234.7L694.9 1230.5L696.5 1226.1L698.0 1222.8L699.6 1222.6L701.1 1220.6L702.7 1216.8L704.2 1215.5L705.8 1214.8L707.3 1213.6L708.9 1212.4L710.4 1210.6L712.0 1207.1L713.5 1206.5L715.1 1203.4L716.6 1201.2L718.2 1198.2L719.8 1194.1L721.3 1190.8L722.9 1187.4L724.4 1182.7L726.0 1179.5L727.5 1176.1L729.1 1171.8L730.6 1169.1L732.2 1167.8L733.7 1167.1L735.3 1163.8L736.8 1161.4L738.4 1156.9L739.9 1154.7L741.5 1151.4L743.0 1147.4L744.6 1141.6L746.1 1139.2L747.7 1131.3L749.3 1123.7L749.9 1055.3L751.9 1053.2L753.9 1052.2L755.5 1052.4L757.0 1053.6L758.6 1055.3L760.1 1051.7L761.7 1048.1L763.2 1046.0L764.8 1043.0L766.3 1040.5L767.9 1039.8L769.4 1042.8L771.0 1045.6L772.5 1049.1L774.1 1024.3L775.7 1020.8L777.2 1016.5L778.8 1016.6L780.3 1016.3L781.9 1016.5L783.4 1017.6L785.0 1016.8L786.5 1018.1L788.1 1017.1L789.6 1016.1L791.2 1015.6L792.7 1015.0L794.3 1015.1L795.8 1016.5L797.4 1022.2L798.9 1025.4L800.5 1030.5L802.0 1027.0L803.6 1026.7L805.2 1024.3L806.7 1022.8L808.3 1022.8L809.8 1021.7L811.4 1021.2L812.9 1015.2L814.5 1008.8L816.0 1008.1L817.6 1005.6L819.1 1002.5L820.7 1000.2L822.2 999.4L823.8 996.3L825.3 994.7L826.9 991.8L828.4 990.1L830.0 990.1L831.6 991.3L833.1 991.7L834.7 971.5L836.2 970.6L837.8 970.3L839.3 968.4L840.9 964.7L842.4 958.4L844.0 952.9L845.5 897.0L847.1 893.4L848.6 890.7L850.2 889.7L851.7 884.5L853.3 882.5L854.8 881.4L856.4 875.4L858.0 869.0L859.0 850.0L860.6 851.0L862.1 851.0L863.7 852.4L866.0 871.0L867.5 868.3L869.1 866.1L870.6 861.7L872.2 863.6L873.7 866.1L875.3 868.7L877.0 867.0L878.8 865.9L880.5 866.1L882.3 864.0L883.8 860.5L885.4 859.3L886.9 854.7L888.8 840.9L890.7 824.5L892.2 817.0L893.8 808.2L895.3 801.2L897.2 796.5L899.0 788.7L900.9 782.5L902.5 786.1L904.0 789.7L905.6 794.2L907.9 819.8L909.5 814.3L911.2 805.8L912.7 804.2L914.3 802.2L915.8 801.2L917.3 798.6L918.8 794.8L920.4 793.9L921.9 790.9L923.4 793.4L925.0 795.5L926.5 798.8L928.1 803.6L929.6 807.6L931.2 810.5L933.0 813.6L934.7 819.9L936.5 823.7L938.2 829.1L940.0 833.4L941.7 835.9L943.5 837.1L945.2 840.8L946.7 836.2L948.3 831.9L949.8 829.1L951.5 826.0L953.3 819.1L955.0 815.5L956.8 810.5L958.4 812.0L959.9 814.0L961.5 815.2L963.2 812.6L965.0 810.1L966.8 805.2L968.5 803.5L970.2 806.2L972.0 806.9L973.8 809.5L975.5 811.4L977.2 810.3L979.0 809.5L980.7 809.0L982.4 808.2L984.1 804.6L985.9 800.8L987.6 798.5L989.4 794.2L991.0 791.4L992.5 786.5L994.0 784.1L995.6 781.7L997.2 780.0L998.7 775.6L1000.5 775.2L1002.2 773.3L1004.0 771.1L1005.7 770.9L1007.3 764.8L1008.8 756.7L1010.4 749.9L1011.9 745.5L1013.5 741.3L1015.0 736.0L1016.6 731.4L1018.1 725.9L1019.7 721.0L1021.3 724.0L1022.8 724.4L1024.4 726.6L1025.9 727.6L1027.5 729.9L1029.0 730.4L1030.8 726.2L1032.5 723.2L1034.2 721.6L1036.0 717.3L1037.5 716.2L1039.1 716.8L1040.7 716.1L1042.2 715.2L1043.8 714.5L1045.3 714.3L1046.8 714.0L1048.4 713.4L1049.9 711.3L1051.5 711.1L1053.0 710.5L1054.6 709.6L1056.5 696.0L1058.4 682.4L1060.2 676.3L1062.1 682.3L1064.0 689.4L1065.8 690.3L1067.5 693.1L1069.2 695.4L1071.0 696.4L1073.8 700.1L1075.3 697.4L1076.9 696.3L1078.4 695.4L1080.0 695.4L1081.6 695.0L1083.1 694.5L1084.7 693.9L1086.2 692.7L1087.8 693.1L1089.3 692.3L1090.9 694.6L1092.4 695.9L1094.0 696.0L1095.8 695.7L1097.7 694.8L1100.0 694.6L1101.6 690.1L1103.1 689.5L1104.7 685.3L1106.2 682.9L1107.8 682.3L1109.3 680.2L1110.9 680.4L1112.4 679.6L1114.0 678.8L1115.5 679.1L1117.1 680.4L1118.6 681.8L1120.6 685.9L1122.5 686.2L1124.5 690.0L1126.0 689.4L1127.6 688.3L1129.1 687.7L1130.7 684.2L1132.2 683.4L1133.8 680.7L1135.3 679.1L1136.9 678.4L1138.4 678.3L1140.2 678.2L1141.9 678.3L1143.7 674.7L1145.4 673.7L1147.2 670.8L1148.9 670.2L1150.5 667.7L1152.0 665.5L1153.6 662.0L1155.3 662.4L1157.1 662.0L1158.8 662.5L1160.6 664.4L1162.3 661.2L1164.1 658.5L1165.8 658.9L1167.5 659.7L1169.1 660.7L1170.7 661.2L1172.2 662.0L1173.8 663.0L1175.3 662.6L1176.9 663.2L1178.6 658.3L1180.4 656.2L1182.7 660.9L1184.2 658.8L1185.8 654.3L1187.3 652.7L1188.9 650.0L1190.5 646.5L1192.0 643.4L1193.8 643.4L1195.5 642.2L1197.2 643.5L1199.0 644.6L1201.3 650.4L1202.9 649.5L1204.4 647.6L1206.0 646.9L1207.7 648.2L1209.5 649.2L1211.0 647.1L1212.6 646.7L1214.1 644.6L1215.7 643.4L1217.2 641.5L1218.8 641.1L1220.5 640.1L1222.3 639.9L1223.8 637.2L1225.4 636.0L1226.9 632.9L1228.7 629.6L1230.4 628.3L1232.4 627.2L1234.3 625.5L1236.3 623.6L1237.8 620.5L1239.4 620.2L1240.9 617.8L1242.5 615.2L1244.0 613.7L1245.6 613.1L1247.1 613.6L1248.7 613.6L1250.2 614.3L1251.8 613.2L1253.3 609.6L1254.9 607.3L1256.6 602.1L1258.4 598.0L1259.9 596.2L1261.5 591.0L1263.0 589.8L1264.6 588.5L1266.1 584.7L1267.7 584.0L1269.6 580.2L1271.6 580.0L1273.5 575.9L1275.1 573.7L1276.6 569.5L1278.2 567.7L1279.9 564.2L1281.7 563.0L1283.4 563.5L1285.2 563.0L1286.9 565.2L1288.7 566.5L1290.4 574.0L1292.2 579.3L1293.9 576.7L1295.7 575.9L1297.6 574.9L1299.5 573.3L1301.5 572.4L1303.0 573.5L1304.6 575.8L1306.1 578.2L1307.9 578.9L1309.6 579.3L1311.2 578.3L1312.7 577.6L1314.3 577.0L1315.8 576.2L1317.4 576.7L1318.9 575.9L1320.7 575.0L1322.4 573.5L1323.6 558.4L1325.0 546.7L1327.1 560.7L1329.4 556.1L1331.8 560.7L1333.5 563.2L1335.2 564.2L1337.1 549.1L1338.7 563.0L1340.5 564.6L1342.2 566.5L1344.0 565.7L1345.7 563.0L1347.5 556.1L1349.2 549.1L1351.6 537.4L1353.3 536.4L1355.0 535.1L1356.8 531.3L1358.5 526.9L1360.9 533.9L1363.2 524.6L1364.9 523.0L1366.7 520.0L1369.0 521.1L1371.4 529.3L1373.1 526.6L1374.8 524.6L1377.2 517.6L1379.5 526.9L1381.2 522.2L1383.0 520.0L1384.7 518.7L1386.5 518.8L1388.2 515.6L1390.0 514.1L1391.1 521.1L1393.9 511.8L1395.8 531.6L1398.1 518.8L1399.9 512.7L1401.6 509.5L1403.4 507.2L1405.1 502.5L1406.9 500.1L1408.6 497.8L1410.2 495.9L1411.7 490.8L1413.3 489.7L1414.8 487.6L1416.4 486.9L1417.9 483.9L1419.5 481.9L1421.0 479.0L1422.6 476.9L1424.3 475.6L1426.1 474.5L1428.4 471.0L1430.2 471.4L1431.9 473.4L1433.7 470.8L1435.4 469.9L1437.7 464.1L1439.3 462.7L1440.8 462.3L1442.4 461.7L1444.1 461.0L1445.9 460.6L1448.2 452.4L1450.5 449.4L1452.1 450.6L1453.6 450.1L1455.2 451.2L1456.8 450.0L1458.3 449.3L1459.9 448.9L1461.6 449.0L1463.4 450.1L1465.1 450.8L1466.8 452.4L1468.6 447.5L1470.3 444.3L1472.1 443.6L1473.8 443.1L1475.6 444.0L1477.3 447.7L1479.1 451.4L1480.8 452.4L1483.2 460.6L1484.9 459.1L1486.6 458.2L1488.4 459.4L1490.1 459.4L1491.9 458.1L1493.6 455.9L1495.2 455.1L1496.7 453.5L1498.3 452.4L1500.0 457.3L1501.8 459.4L1503.3 459.1L1504.9 459.5L1506.4 459.4L1508.2 460.1L1509.9 461.7L1511.7 459.9L1513.4 457.1L1515.2 459.4L1516.9 460.6L1518.5 458.7L1520.0 457.6L1521.6 457.1L1523.3 455.0L1525.1 454.7L1526.8 456.2L1528.6 459.4L1530.3 454.6L1532.1 452.4L1534.4 441.9L1536.7 432.6L1539.1 436.1L1541.4 441.9L1543.7 440.8L1545.5 437.5L1547.2 434.9L1549.0 438.7L1550.7 439.6L1552.4 436.9L1554.2 434.9L1556.5 431.4L1558.3 432.7L1560.0 434.9L1561.8 437.7L1563.5 440.8L1565.3 441.0L1567.0 441.9L1568.8 445.6L1570.5 447.7L1572.2 452.5L1574.0 455.9L1575.7 451.9L1577.5 450.1L1579.8 457.1L1581.6 459.1L1583.3 462.9L1585.6 474.5L1587.4 480.3L1589.1 485.0L1590.9 484.0L1592.6 480.4L1594.2 480.2L1595.7 479.5L1597.3 479.2L1599.0 483.0L1600.8 483.9L1603.1 480.4L1604.9 485.2L1606.6 493.2L1608.2 490.0L1609.7 490.1L1611.3 487.3L1613.0 488.3L1614.8 489.7L1616.3 488.7L1617.9 489.0L1619.4 488.5L1621.0 490.1L1622.5 490.1L1624.1 490.8L1626.0 492.1L1628.0 493.1L1629.9 495.5L1631.4 493.4L1633.0 494.0L1634.5 492.0L1636.1 492.8L1637.7 494.3L1639.2 494.3L1641.1 492.3L1643.1 491.5L1645.0 490.8L1646.6 491.1L1648.1 493.0L1649.7 494.3L1651.6 495.2L1653.6 497.6L1655.5 500.2L1657.5 499.2L1659.4 498.3L1661.3 497.8L1663.7 495.5L1665.2 495.7L1666.8 496.9L1668.3 499.0L1670.1 498.8L1671.8 496.7L1673.6 497.6L1675.3 500.2L1677.1 501.9L1678.8 503.6L1681.1 493.2L1683.5 480.4L1685.8 478.0L1687.5 479.5L1689.3 481.5L1690.8 481.2L1692.4 480.2L1693.9 480.4L1695.5 480.8L1697.0 481.2L1698.6 482.7L1700.0 483.9L1701.7 486.9L1703.5 489.7L1705.0 489.4L1706.6 487.6L1708.2 486.2L1710.1 487.0L1712.0 486.6L1714.0 487.3L1716.3 496.7L1718.1 497.5L1719.8 501.3L1721.5 500.8L1723.3 500.2L1725.0 497.2L1726.8 494.3L1728.3 494.0L1729.9 493.4L1731.4 493.2L1733.2 493.9L1734.9 494.3L1737.3 501.3L1738.8 501.2L1740.4 501.1L1741.9 500.2L1743.7 502.5L1745.4 506.0L1747.2 506.5L1748.9 507.1L1750.7 506.2L1752.4 503.6L1754.0 504.8L1755.5 506.4L1757.1 509.5L1758.7 532.8L1760.8 531.3L1762.9 530.4L1764.6 530.8L1766.4 532.8L1768.1 534.5L1769.9 535.1L1772.2 524.6L1774.1 524.3L1776.1 522.8L1778.0 522.3L1779.8 524.0L1781.5 528.1L1783.1 525.0L1784.6 523.5L1786.2 522.3L1787.9 523.4L1789.7 526.9L1791.4 525.6L1793.2 524.6L1794.7 526.4L1796.3 527.1L1797.8 529.3L1799.8 530.6L1801.7 535.3L1803.6 537.4L1805.2 534.7L1806.8 533.6L1808.3 532.8L1810.1 531.2L1811.8 530.4L1813.5 530.8L1815.3 531.6L1816.8 527.6L1818.4 525.9L1820.0 523.4L1821.9 520.6L1823.8 519.5L1825.8 516.5L1827.3 515.8L1828.9 515.6L1830.4 514.1L1832.2 513.3L1833.9 511.8L1835.5 511.8L1837.0 511.1L1838.6 510.6L1840.1 512.0L1841.7 514.5L1843.2 515.3L1845.0 519.3L1846.7 522.3L1848.5 520.2L1850.2 515.3L1852.0 513.1L1853.7 509.5L1855.3 507.8L1856.8 504.1L1858.4 502.5L1860.1 502.3L1861.9 501.3L1863.6 502.3L1865.4 503.6L1866.9 502.8L1868.5 502.3L1870.0 502.5L1871.6 501.4L1873.1 500.9L1874.7 500.6L1876.2 502.0L1877.8 502.2L1879.3 503.6L1880.9 503.5L1882.5 504.8L1884.0 504.8L1886.3 509.5L1887.9 507.3L1889.4 503.3L1891.0 502.5L1892.7 503.1L1894.5 506.0L1896.2 507.7L1898.0 511.8L1899.5 510.3L1901.1 510.2L1902.6 508.3L1904.4 508.4L1906.1 507.1L1907.9 508.5L1909.6 509.5L1911.4 506.3L1913.1 504.8L1914.9 505.3L1916.6 506.0L1918.2 507.2L1919.7 508.7L1921.3 510.6L1922.8 509.0L1924.4 509.2L1925.9 508.3L1927.5 508.6L1929.0 508.5L1930.6 508.3L1932.3 508.7L1934.1 510.6L1935.8 507.2L1937.6 503.6L1939.3 505.5L1941.1 509.5L1942.8 511.0L1944.6 511.8L1946.3 514.0L1948.1 516.5L1949.8 522.5L1951.6 525.8L1953.3 528.3L1955.0 529.3L1956.8 525.1L1958.5 523.4L1960.3 521.2L1962.0 520.0L1963.8 521.1L1965.5 521.1L1967.1 521.5L1968.6 521.8L1970.2 522.3L1971.7 522.6L1973.3 523.4L1974.8 523.4L1976.4 523.2L1978.0 521.2L1979.5 520.0L1981.1 521.5L1982.6 521.7L1984.2 522.3L1986.1 520.4L1988.0 520.5L1990.0 518.8L1991.5 519.4L1993.1 519.6L1994.6 521.1L1996.2 521.4L1997.7 519.7L1999.3 520.0L2001.0 519.5L2002.8 518.8L2004.5 519.9L2006.3 521.1L2008.6 515.3L2010.9 523.4L2012.7 526.9L2014.4 528.1L2016.2 529.6L2017.9 531.6L2019.5 531.9L2021.0 532.8L2022.6 533.9L2024.3 536.5L2026.1 540.9L2027.6 542.6L2029.2 543.7L2030.7 545.6L2032.3 544.6L2033.9 541.8L2035.4 540.9L2037.2 542.8L2038.9 545.6L2040.5 544.4L2042.0 544.8L2043.6 543.2L2045.3 543.2L2047.0 542.1L2048.8 546.7L2050.5 549.1L2052.1 550.5L2053.6 551.2L2055.2 552.6L2057.5 549.1L2059.3 551.4L2061.0 556.1L2062.8 559.4L2064.5 560.7L2066.3 558.4L2068.0 556.1L2069.6 556.2L2071.1 557.7L2072.7 559.5L2074.2 559.6L2075.8 561.5L2077.3 561.9L2078.9 562.0L2080.4 560.7L2082.0 560.7L2083.5 561.0L2085.1 560.6L2086.6 560.7L2088.6 560.9L2090.5 561.0L2092.5 560.7L2094.0 562.1L2095.6 563.7L2097.1 564.2L2098.7 565.5L2100.2 566.1L2101.8 568.9L2103.3 570.1L2104.9 571.4L2106.4 572.4L2108.0 570.5L2109.5 569.8L2111.1 568.9L2112.7 566.0L2114.2 562.7L2115.8 561.9L2117.3 562.0L2118.9 562.5L2120.4 563.0L2122.4 562.2L2124.3 561.8L2126.2 560.7L2127.8 561.3L2129.3 563.1L2130.9 563.0L2132.5 562.8L2134.0 562.2L2135.6 560.7L2137.1 560.3L2138.7 559.5L2140.2 558.4L2141.8 558.8L2143.3 559.5L2144.9 559.5L2146.4 559.0L2148.0 558.9L2149.5 558.4L2151.3 561.3L2153.0 563.0L2154.8 565.4L2156.5 567.7L2158.3 565.4L2160.0 564.2L2161.8 561.4L2163.5 560.7L2165.1 560.6L2166.6 561.3L2168.2 561.9L2169.7 561.2L2171.3 560.8L2172.8 559.5L2174.6 558.8L2176.3 557.2L2177.9 557.7L2179.4 559.5L2181.0 559.5L2182.5 558.9L2184.1 559.1L2185.6 558.4L2187.2 558.2L2188.7 559.5L2190.3 559.5L2191.8 561.5L2193.4 563.8L2195.0 564.2L2196.7 566.9L2198.4 567.7L2200.2 571.2L2201.9 573.5L2203.5 573.8L2205.0 573.7L2206.6 573.5L2208.2 574.9L2209.7 575.2L2211.3 577.0L2212.8 575.9L2214.4 575.5L2215.9 573.5L2217.5 573.3L2219.0 574.0L2220.6 573.5L2222.5 573.6L2224.5 573.4L2226.4 573.5L2228.3 572.0L2230.3 571.8L2232.2 571.2L2234.2 569.4L2236.1 569.2L2238.0 567.7L2240.0 567.8L2241.9 567.4L2243.9 566.5L2245.8 565.9L2247.7 564.8L2249.7 564.2L2251.6 562.3L2253.6 562.2L2255.5 560.7L2257.1 561.6L2258.6 562.6L2260.2 563.0L2261.7 563.6L2263.3 565.3L2264.8 565.4L2266.6 559.8L2268.3 556.1L2270.1 554.5L2271.8 553.7L2273.6 552.1L2275.3 551.4L2277.1 550.1L2278.8 548.1L2280.3 548.1L2281.9 546.1L2283.4 545.9L2285.1 545.3L2286.8 544.2L2289.4 547.6L2291.1 548.4L2292.8 548.5L2294.5 549.2L2296.2 551.1L2298.4 550.7L2300.5 551.1L2302.2 551.4L2303.9 552.0L2305.6 551.9L2307.3 552.6L2309.0 552.7L2310.7 552.8L2312.5 553.0L2314.2 553.2L2315.9 553.6L2317.6 553.9L2319.3 554.7L2321.0 554.5L2322.7 554.5L2324.4 554.8L2326.1 555.3L2328.3 555.9L2330.4 556.2L2332.1 556.4L2333.8 555.3L2335.5 554.5L2337.2 554.5L2338.9 555.2L2340.6 558.7L2342.3 556.7L2344.1 556.2L2345.8 555.4L2347.5 554.5L2349.2 554.2L2350.9 553.6L2353.0 551.5L2355.2 550.7L2357.3 551.7L2359.4 554.1L2361.6 552.8L2363.7 551.1L2365.8 550.6L2368.0 549.7L2369.7 551.7L2371.4 552.8L2373.1 555.0L2374.8 556.2L2376.9 554.4L2379.1 554.1L2381.2 553.4L2383.3 552.8L2385.5 553.6L2387.6 553.6L2389.7 552.9L2391.9 550.2L2393.6 549.0L2395.3 548.5L2397.4 549.3L2399.6 549.3L2401.7 551.6L2403.8 553.1L2406.0 554.4L2408.1 554.5L2410.2 554.0L2412.4 554.1L2414.5 554.5L2416.6 554.5L2418.4 555.4L2420.1 555.4L2421.8 555.8L2423.5 554.5L2425.2 553.9L2426.9 553.6L2428.6 554.8L2430.3 557.9L2432.0 558.6L2433.7 561.3L2435.9 561.6L2438.0 563.0L2439.7 562.7L2441.4 562.2L2443.1 562.3L2444.8 563.9L2446.5 567.3L2448.2 569.0L2450.0 571.8L2451.7 573.3L2454.2 569.0L2456.4 568.6L2458.5 567.3L2460.6 571.2L2462.8 573.3L2464.9 576.4L2467.0 578.4L2469.2 577.9L2471.3 575.8L2473.0 576.6L2474.7 576.5L2476.4 576.7L2478.1 577.5L2479.8 576.8L2481.6 577.5L2483.3 577.2L2485.0 577.1L2486.7 577.5L2488.4 574.5L2490.1 573.3L2491.8 576.3L2493.5 580.1L2495.6 583.8L2497.8 587.8L2499.5 586.2L2501.2 583.5L2502.9 584.3L2504.6 584.4L2506.3 582.2L2508.0 581.8L2510.2 577.6L2512.3 574.1L2514.0 574.6L2515.7 575.0L2518.3 568.1L2520.0 569.2L2521.7 570.7L2523.8 571.9L2526.0 575.0L2527.7 576.0L2529.4 576.7L2531.5 574.7L2533.6 573.3L2535.4 575.9L2537.1 577.5L2538.8 578.8L2540.5 580.1L2542.2 582.3L2543.9 582.7L2546.8 589.5L2549.0 580.9L2551.6 576.7L2553.3 576.6L2555.0 575.0L2557.6 574.1L2558.8 580.1L2560.1 559.6L2562.7 557.0L2564.4 554.9L2566.1 554.5L2568.7 556.2L2569.5 569.8L2572.4 570.7L2574.6 557.0L2576.4 556.3L2578.1 554.5L2579.8 553.7L2581.5 551.9L2584.0 551.1L2585.7 548.3L2587.5 546.8L2590.0 544.2L2592.6 552.8L2594.3 550.7L2596.0 550.2L2597.7 552.7L2599.4 555.3L2601.5 552.8L2603.7 551.1L2605.4 549.3L2607.1 545.9L2609.7 545.9L2612.2 551.1L2613.9 550.7L2615.6 548.5L2617.8 551.1L2619.9 554.5L2621.6 551.2L2623.3 549.3L2625.5 546.8L2627.6 544.2L2629.7 542.9L2631.9 540.8L2634.0 539.1L2636.1 535.7L2638.3 534.5L2640.4 533.1L2642.5 530.5L2644.7 528.9L2646.8 525.3L2648.9 522.9L2651.1 522.2L2653.2 520.3L2654.9 520.8L2656.6 521.2L2658.8 518.5L2660.9 517.7L2662.6 516.3L2664.3 515.2L2666.9 506.6L2668.6 502.0L2670.3 499.0L2672.9 499.0L2674.6 496.5L2676.3 493.0L2678.0 488.2L2679.7 486.1L2682.3 482.7L2684.0 493.0L2685.7 496.9L2687.4 502.4L2689.1 493.0L2691.6 472.5L2693.4 469.1L2695.4 446.9L2696.8 438.3L2698.1 426.4" fill="none" stroke="#f28a73" stroke-width="5.7" stroke-linejoin="round" stroke-linecap="round"/>
<path d="M352.6 1164.6L352.6 1141.5L353.1 1138.3L353.9 1135.1L354.5 1131.8L356.0 1130.0L356.4 1127.6L357.1 1131.1L357.8 1134.7L359.3 1131.8L361.3 1130.9L363.2 1133.8L364.1 1137.6L365.1 1141.5L366.0 1144.0L367.0 1146.3L369.0 1150.2L369.3 1146.2L370.5 1142.5L372.5 1146.3L374.4 1143.4L375.3 1146.3L376.3 1149.2L377.3 1151.2L378.6 1153.1L381.0 1151.1L383.5 1152.1L384.1 1154.7L385.4 1156.9L386.4 1160.1L386.6 1163.3L386.8 1166.6L387.0 1163.2L388.8 1160.3L389.3 1156.9L390.0 1159.5L391.2 1161.8L393.1 1158.9L394.7 1161.6L395.1 1164.7L396.7 1161.5L397.0 1157.9L398.9 1159.8L401.4 1158.9L402.0 1161.1L403.8 1162.7L406.7 1161.8L409.2 1159.8L410.7 1157.5L411.9 1155.0L413.0 1158.0L414.4 1160.8L416.9 1159.8L419.2 1159.8L420.8 1161.5L421.5 1163.7L423.4 1165.3L424.0 1167.6L425.3 1165.7L426.6 1163.7L428.5 1161.8L430.2 1163.4L430.8 1165.6L432.7 1163.7L434.3 1165.9L435.1 1168.5L437.6 1165.6L439.5 1169.5L440.4 1166.9L442.0 1164.7L442.6 1161.5L444.3 1158.9L446.6 1157.9L447.9 1159.8L449.2 1161.8L450.3 1158.4L451.7 1155.0L454.0 1156.9L455.9 1160.8L458.2 1157.9L460.7 1156.9L461.3 1159.7L462.7 1162.1L463.6 1164.7L465.0 1161.8L466.0 1158.9L468.5 1158.9L469.9 1156.0L471.4 1153.1L472.6 1150.3L473.3 1147.3L473.6 1144.2L473.8 1141.1L475.2 1138.1L475.5 1135.0L475.2 1131.8L476.3 1128.7L476.8 1125.4L477.2 1122.2L477.3 1118.8L477.6 1115.4L478.0 1112.0L478.7 1108.6L479.1 1104.6L480.6 1100.9L481.8 1098.1L482.2 1095.1L483.2 1098.5L483.9 1101.9L485.3 1104.8L485.3 1108.1L486.5 1111.2L486.8 1114.4L486.8 1117.8L487.6 1121.0L488.8 1124.1L489.9 1127.4L490.1 1130.8L489.6 1134.3L490.7 1137.6L491.1 1134.7L492.3 1131.9L492.0 1128.9L492.6 1126.0L494.6 1129.9L494.3 1126.7L495.4 1123.7L495.9 1120.7L495.5 1117.5L496.1 1114.4L498.0 1111.5L499.4 1112.5L499.5 1108.5L500.7 1104.8L501.7 1107.6L502.3 1110.6L502.1 1113.8L502.9 1116.9L504.3 1119.9L504.2 1123.1L504.2 1120.2L504.4 1117.3L504.8 1114.4L505.8 1111.5L505.9 1114.5L507.2 1117.3L507.3 1120.2L508.5 1124.1L508.9 1121.2L509.2 1118.3L509.2 1115.4L510.0 1112.5L510.1 1115.5L511.3 1118.2L511.0 1121.2L512.1 1124.0L511.9 1127.0L512.2 1123.6L512.3 1120.2L512.8 1116.8L513.5 1113.5L513.2 1116.7L513.8 1119.8L514.9 1122.9L515.0 1126.0L515.9 1122.9L515.2 1119.6L515.8 1116.4L516.7 1113.2L516.7 1110.0L516.8 1106.7L518.1 1102.9L518.3 1098.9L519.7 1095.1L519.5 1098.8L521.1 1102.2L521.2 1105.7L521.3 1102.5L522.5 1099.4L522.6 1096.1L523.9 1095.1L524.5 1098.0L525.0 1100.9L525.7 1103.7L525.5 1106.7L525.9 1103.6L527.4 1100.9L527.5 1104.1L528.3 1107.3L528.0 1110.6L528.6 1113.8L528.7 1117.0L528.9 1120.2L528.5 1123.3L529.4 1126.3L529.4 1129.4L529.2 1132.4L530.4 1135.4L530.6 1138.4L530.3 1141.5L530.4 1145.0L531.6 1148.3L533.2 1145.4L534.1 1142.0L533.8 1138.5L534.2 1135.2L535.1 1131.8L535.8 1128.4L536.5 1124.9L535.9 1121.4L537.3 1118.0L537.1 1114.4L538.1 1111.1L538.2 1107.7L538.4 1104.3L539.0 1100.9L538.6 1097.7L538.7 1094.6L540.2 1091.5L539.3 1088.3L540.2 1085.1L539.7 1081.9L540.7 1078.8L540.5 1075.6L540.3 1072.5L540.3 1069.3L540.9 1066.1L541.7 1062.8L541.3 1059.3L542.0 1055.9L542.9 1052.6L543.3 1049.7L544.1 1046.9L544.2 1043.9L544.4 1041.0L544.8 1038.1L545.7 1035.2L547.1 1031.4L548.6 1035.2L548.6 1038.7L550.0 1041.9L550.8 1045.3L550.6 1048.8L550.8 1045.5L551.5 1042.3L552.1 1039.1L551.6 1035.8L551.8 1032.5L552.2 1029.3L552.5 1026.0L552.0 1022.7L552.4 1019.5L553.2 1016.2L553.4 1013.0L553.0 1009.7L553.1 1006.4L553.1 1003.1L552.5 999.9L553.1 996.6L552.6 993.2L552.8 989.9L554.2 986.7L554.1 983.4L554.7 980.1L553.6 976.7L554.4 973.4L555.0 970.1L555.2 966.6L555.9 963.3L556.0 959.9L556.7 956.9L557.9 954.1L559.3 951.0L558.6 947.5L559.9 944.4L559.9 947.3L560.0 950.2L560.7 947.2L561.2 944.2L561.3 941.2L561.6 938.1L562.1 935.1L562.6 932.1L562.3 929.0L562.9 932.1L562.8 935.2L562.9 938.3L563.3 941.4L564.3 944.4L564.5 947.7L564.0 950.9L564.0 954.1L564.5 957.3L564.6 960.6L565.0 963.8L564.8 967.0L564.9 970.2L565.7 973.4L565.0 976.7L564.6 979.9L565.4 983.1L565.0 986.2L565.3 989.3L565.9 992.5L565.5 995.6L565.8 998.7L566.1 1001.8L565.7 1005.0L566.8 1008.0L566.0 1011.2L567.1 1014.3L566.4 1017.4L566.7 1020.5L566.8 1023.7L567.4 1027.0L567.0 1030.5L567.5 1033.8L567.6 1037.2L567.4 1040.6L568.6 1043.9L569.1 1047.3L568.7 1050.7L569.3 1053.9L569.1 1057.2L570.1 1060.3L570.4 1063.6L569.7 1066.9L570.6 1070.0L570.7 1073.3L571.4 1076.5L571.0 1079.8L572.2 1082.9L572.0 1086.2L572.6 1089.4L573.9 1093.1L574.5 1097.1L575.3 1100.0L575.8 1102.9L575.9 1106.1L576.2 1109.3L576.8 1112.4L577.8 1115.5L578.1 1111.9L578.9 1108.4L579.3 1104.8L581.3 1101.9L582.2 1105.4L583.0 1108.9L583.2 1112.6L584.2 1115.9L585.1 1119.3L585.2 1122.9L585.7 1126.5L586.7 1130.0L587.2 1126.9L587.7 1123.8L587.0 1120.6L587.1 1117.5L587.7 1114.4L587.6 1111.3L587.8 1108.1L588.3 1105.0L588.6 1101.9L588.7 1105.2L589.2 1108.5L589.8 1111.8L589.4 1115.1L590.1 1118.4L589.6 1121.7L590.6 1124.9L591.3 1128.2L591.5 1131.5L590.5 1134.8L591.8 1138.0L591.1 1141.4L591.4 1144.6L592.0 1147.9L591.9 1151.2L592.2 1154.7L593.2 1158.0L592.9 1155.0L593.3 1152.1L594.1 1149.3L593.8 1146.3L594.8 1143.5L595.6 1140.6L595.2 1137.6L595.4 1134.7L596.3 1131.9L596.2 1128.6L597.5 1125.5L597.9 1122.2L598.2 1125.2L598.1 1128.3L598.3 1131.3L598.3 1134.3L598.3 1137.4L598.9 1140.4L599.8 1143.3L599.6 1146.4L599.9 1143.2L599.8 1140.0L599.9 1136.9L601.0 1133.8L601.7 1130.9L602.5 1128.0L603.2 1125.2L602.8 1122.2L603.4 1119.3L604.1 1116.4L604.6 1119.5L604.5 1122.7L605.0 1125.8L605.4 1129.0L605.8 1125.6L606.2 1122.2L605.9 1118.8L606.7 1115.5L607.1 1112.1L606.8 1108.7L608.3 1112.6L609.2 1115.6L608.3 1118.9L608.9 1122.0L609.5 1125.1L609.1 1121.8L609.7 1118.6L610.1 1115.3L610.6 1112.1L610.0 1108.8L610.4 1105.6L611.0 1102.3L610.6 1099.0L612.2 1095.2L613.7 1093.2L615.1 1091.3L616.0 1088.5L616.0 1085.5L617.0 1082.7L616.7 1079.7L617.3 1076.8L617.4 1073.9L618.0 1077.4L617.5 1080.9L617.6 1084.4L618.1 1087.8L618.6 1091.3L618.5 1094.7L619.4 1098.0L618.7 1101.5L619.5 1104.8L620.7 1101.9L620.2 1104.9L620.5 1107.8L621.3 1110.6L621.2 1113.6L621.8 1116.4L623.4 1112.6L623.9 1115.8L623.4 1119.2L623.7 1122.5L624.7 1125.7L624.7 1129.0L624.6 1125.4L625.6 1121.9L626.1 1118.4L626.3 1121.5L626.3 1124.6L627.0 1127.6L628.0 1130.7L627.6 1133.8L628.4 1131.0L627.6 1128.0L629.0 1125.2L628.4 1122.2L629.2 1119.3L629.6 1122.4L629.2 1125.5L630.4 1128.5L630.6 1131.5L630.3 1134.6L630.5 1137.7L631.9 1134.8L631.9 1137.7L632.0 1140.6L632.5 1143.5L632.5 1146.4L633.4 1149.3L633.8 1152.8L633.6 1156.4L634.6 1159.9L634.3 1156.5L634.8 1153.1L635.5 1149.8L635.5 1146.4L636.4 1143.0L636.3 1139.6L636.7 1142.9L637.3 1146.1L637.9 1149.3L638.5 1146.3L638.3 1143.2L638.2 1140.1L638.5 1137.1L639.3 1134.1L639.6 1131.1L639.2 1128.0L639.9 1131.2L639.3 1134.5L639.3 1137.7L640.2 1140.9L640.4 1144.1L640.8 1147.3L640.5 1144.0L641.1 1140.8L641.2 1137.5L641.5 1134.2L640.8 1130.9L642.2 1127.7L641.7 1124.3L641.7 1121.1L642.4 1117.8L642.1 1114.5L643.5 1112.6L644.0 1109.2L644.2 1105.8L644.9 1102.4L645.0 1099.0L646.0 1102.3L645.7 1105.8L646.3 1109.2L646.6 1112.6L647.5 1109.5L647.7 1106.4L647.1 1103.3L647.6 1100.2L647.9 1097.1L649.9 1093.2L649.6 1090.1L650.3 1087.0L651.1 1084.0L651.5 1080.9L651.2 1077.8L652.8 1073.9L653.2 1070.7L653.4 1067.4L654.1 1064.3L654.0 1060.8L654.9 1057.5L655.6 1054.2L655.3 1050.7L656.0 1054.0L655.3 1057.4L656.5 1060.6L656.5 1064.0L656.6 1067.3L656.2 1070.6L656.6 1073.9L657.3 1077.1L657.7 1080.3L658.0 1083.6L658.1 1086.5L659.2 1089.3L658.7 1092.3L659.3 1095.2L659.0 1092.1L659.7 1089.1L659.5 1086.0L659.6 1083.0L660.2 1080.0L660.2 1076.9L660.5 1073.9L660.6 1070.5L660.9 1067.1L661.4 1063.8L661.6 1060.4L662.8 1058.5L663.6 1061.3L663.8 1064.2L663.5 1067.2L664.0 1070.0L664.0 1073.1L664.3 1076.2L664.1 1079.3L664.6 1082.3L664.4 1085.4L665.1 1088.4L664.9 1085.0L665.8 1081.7L666.1 1078.3L666.5 1074.9L665.8 1071.5L666.3 1068.1L666.8 1071.5L666.3 1074.9L667.5 1078.2L667.4 1081.6L668.3 1078.3L668.3 1074.9L667.4 1071.5L667.7 1068.1L668.5 1064.7L668.0 1061.3L667.9 1057.9L668.6 1054.6L669.3 1051.7L669.0 1048.8L669.7 1045.9L669.0 1043.0L669.8 1040.1L670.2 1043.2L670.1 1046.4L671.3 1049.5L670.9 1052.7L670.6 1049.5L671.5 1046.4L671.9 1043.3L672.2 1040.1L671.1 1036.9L671.8 1033.8L672.3 1030.7L672.1 1027.5L673.2 1025.6L673.6 1028.8L673.8 1032.1L674.4 1035.3L674.0 1032.1L673.9 1029.0L674.1 1025.9L674.0 1022.8L674.8 1019.7L674.9 1016.5L675.0 1013.4L674.5 1010.3L674.6 1007.2L674.7 1004.0L675.7 1000.9L676.0 997.8L675.4 994.7L675.1 998.1L676.5 1001.4L676.8 1004.8L676.5 1008.2L676.2 1011.4L677.1 1014.4L677.0 1017.5L677.8 1020.6L677.9 1023.7L678.0 1026.8L678.0 1030.0L678.2 1033.1L678.0 1036.2L678.9 1039.4L678.0 1042.5L677.9 1045.7L678.9 1048.8L678.6 1051.9L678.3 1055.1L678.8 1058.2L679.2 1061.3L679.3 1064.5L678.9 1067.6L679.6 1070.8L679.0 1073.9L678.6 1077.3L678.8 1080.6L679.1 1083.9L679.0 1087.3L679.4 1090.6L679.8 1093.9L679.6 1097.3L679.9 1100.6L679.3 1104.0L679.7 1107.3L680.2 1110.6L680.0 1107.3L681.0 1104.0L680.9 1100.6L681.0 1097.3L681.2 1094.0L680.7 1090.6L681.5 1087.3L681.6 1083.9L681.4 1080.6L681.6 1077.3L681.4 1073.9L681.9 1070.9L681.6 1067.8L682.2 1064.8L681.4 1061.7L682.0 1058.7L682.3 1055.7L682.5 1052.7L683.4 1055.7L683.0 1058.7L682.8 1061.8L683.0 1064.8L683.7 1067.8L682.9 1070.9L683.7 1073.9L683.6 1077.2L684.1 1080.5L683.8 1083.8L684.0 1087.1L684.2 1090.3L684.5 1093.6L683.8 1096.9L684.4 1100.2L684.4 1103.5L684.8 1106.8L685.4 1103.7L685.8 1100.7L684.7 1097.6L685.7 1094.6L686.0 1091.6L685.5 1088.5L686.0 1085.5L686.1 1082.6L685.9 1079.6L686.4 1076.8L687.1 1073.9L687.2 1070.7L687.0 1067.4L687.4 1064.2L688.5 1061.1L688.2 1057.8L688.3 1054.6L689.5 1050.7L689.5 1047.5L690.3 1044.4L689.8 1041.2L690.4 1038.0L690.0 1034.8L690.3 1031.6L689.4 1028.4L690.2 1025.3L690.4 1022.1L689.5 1018.9L690.8 1015.7L689.8 1012.5L690.3 1009.3L690.0 1006.2L690.5 1003.0L690.7 999.8L690.6 996.6L690.1 993.5L691.4 990.4L690.7 987.2L691.0 984.1L691.1 980.9L690.9 977.8L690.8 974.6L691.4 971.5L691.4 968.4L691.0 965.2L691.7 962.1L691.2 958.9L690.9 955.8L691.3 952.6L691.1 949.5L691.8 946.4L691.5 943.0L692.5 939.6L692.1 936.2L693.0 932.9L692.9 929.5L692.8 926.1L693.5 929.2L692.3 932.4L692.4 935.5L693.7 938.6L692.7 941.8L693.4 944.9L693.5 948.1L692.9 951.2L694.0 954.3L693.7 957.5L693.2 960.6L693.9 963.8L694.5 960.7L694.3 957.6L695.3 954.5L695.3 951.4L695.1 948.3L695.1 951.5L695.9 954.7L695.3 958.0L695.6 961.2L696.1 964.4L696.5 967.6L695.9 970.9L696.6 974.1L696.2 977.3L696.5 980.5L696.4 983.8L697.0 987.0L697.5 990.2L697.2 993.4L697.6 996.6L698.7 1000.5L699.0 1003.5L698.7 1006.6L699.3 1009.6L698.8 1012.7L699.1 1015.7L699.6 1018.7L700.1 1021.7L701.4 1023.7L702.0 1026.7L702.5 1029.8L701.6 1033.0L702.0 1036.1L702.6 1039.1L703.5 1035.8L704.0 1032.4L704.4 1035.5L704.7 1038.7L704.3 1041.9L704.6 1045.1L704.8 1048.2L704.9 1051.4L705.3 1054.6L705.2 1057.7L706.2 1060.7L706.4 1063.8L705.6 1067.0L706.5 1070.0L707.2 1067.1L707.3 1064.0L706.3 1061.0L706.5 1057.9L707.0 1054.9L707.4 1051.9L707.8 1048.9L707.8 1045.9L709.2 1046.9L710.1 1050.2L709.9 1053.6L710.9 1056.9L710.7 1060.4L710.7 1057.4L711.9 1054.6L713.0 1058.5L713.0 1061.6L713.4 1064.6L713.6 1067.7L714.1 1070.8L714.2 1073.9L714.8 1077.8L715.4 1081.6L716.1 1084.5L716.2 1087.4L715.9 1090.4L716.5 1093.2L717.1 1090.0L716.2 1086.6L716.3 1083.4L717.4 1080.1L717.3 1076.8L717.6 1073.5L716.9 1070.2L717.3 1067.0L717.2 1063.7L717.7 1060.4L718.7 1057.6L718.8 1054.6L719.2 1051.2L720.0 1047.8L720.3 1044.6L720.9 1041.5L720.1 1038.3L720.5 1035.1L720.9 1031.9L721.3 1028.7L720.7 1025.5L720.7 1022.3L720.5 1019.1L721.2 1015.9L721.8 1012.7L720.8 1009.5L720.9 1006.3L721.6 1003.1L721.6 999.8L722.0 996.6L721.6 993.4L722.3 990.2L721.4 986.9L721.7 983.7L722.4 980.5L722.3 977.3L723.9 973.4L725.2 969.6L725.9 972.7L725.7 975.8L725.2 978.9L725.4 982.1L726.0 985.2L726.3 988.3L726.1 991.4L725.7 994.5L726.3 997.7L726.8 1000.8L726.1 1003.9L726.4 1007.0L726.6 1010.1L727.3 1007.1L727.4 1004.0L727.5 1000.9L726.9 997.8L727.5 994.7L726.9 991.6L727.0 988.5L727.3 985.4L728.1 982.3L728.2 979.2L727.4 976.1L727.6 973.0L727.7 969.9L727.8 966.9L728.1 963.8L728.7 959.9L729.7 956.0L730.3 959.2L731.0 962.4L731.0 965.7L732.0 966.7L732.1 969.7L731.9 972.7L732.4 975.7L732.2 978.8L732.7 981.8L733.4 984.8L732.8 987.8L733.3 990.8L732.9 994.0L733.8 997.1L734.3 1000.3L733.7 1003.5L733.8 1006.6L733.9 1009.8L733.4 1013.0L734.0 1016.1L733.9 1019.3L735.0 1022.4L734.5 1025.6L734.6 1028.6L734.5 1031.7L735.7 1034.7L735.9 1037.7L735.1 1040.8L735.1 1043.9L735.8 1046.9L735.4 1043.7L736.3 1040.7L735.8 1037.6L736.7 1034.5L736.7 1031.4L736.3 1028.3L736.4 1025.2L737.3 1022.1L737.1 1019.0L737.2 1015.9L737.9 1012.8L737.7 1009.6L738.0 1006.5L738.6 1003.4L738.0 1006.7L738.6 1009.9L739.0 1013.2L739.1 1016.4L739.0 1019.7L739.1 1023.0L739.0 1026.2L739.7 1029.5L739.9 1026.1L740.8 1022.8L741.0 1019.3L741.1 1015.9L741.8 1012.5L742.0 1009.0L742.3 1005.5L742.7 1002.1L742.4 998.6L743.3 995.5L743.1 992.4L743.1 989.3L743.6 986.2L743.6 983.1L744.2 980.1L743.9 977.0L744.0 974.0L743.9 970.9L744.9 967.9L745.4 964.9L744.9 961.8L745.3 964.9L745.9 968.0L746.0 971.1L746.0 974.2L746.1 977.3L747.1 946.4L747.5 700.0L748.6 520.0L749.9 432.0L751.0 470.0L752.4 465.6L753.4 520.0L754.5 512.0L756.0 580.0L758.0 627.0L760.0 605.0L761.0 800.0L761.7 1168.0L762.5 1120.0L763.3 1068.0L764.5 1120.0L766.0 1062.0L767.0 1100.0L768.3 1035.0L769.3 1080.0L770.3 1062.0L771.5 1145.0L773.0 1144.0L774.0 1080.0L775.0 1000.0L776.5 978.0L778.5 953.0L779.6 961.0L781.1 930.6L782.2 953.0L783.5 953.0L785.0 968.7L786.3 971.8L786.9 1000.0L787.4 1150.0L788.2 1175.0L788.9 1159.0L789.7 1187.0L792.0 1184.0L793.6 1158.0L795.1 1125.0L796.2 1153.0L797.1 1200.0L799.0 1231.0L800.1 1256.0L801.3 1246.0L802.9 1217.0L803.7 1252.0L805.2 1246.0L806.0 1173.0L807.1 1262.0L808.3 1215.0L809.6 1184.0L810.2 1164.0L810.7 1100.0L813.0 1095.0L814.5 1040.0L815.3 978.0L816.4 959.4L817.6 976.5L819.2 978.0L820.7 970.0L823.0 953.0L824.6 930.6L825.4 953.0L826.6 984.0L827.3 1060.0L828.5 1153.0L829.5 1100.0L831.6 1080.0L832.4 1046.0L833.9 1020.0L835.5 1024.6L837.0 993.5L839.4 978.0L841.7 956.0L843.3 959.0L844.3 937.6L845.2 800.0L845.8 640.0L847.0 575.0L849.2 590.0L850.0 681.0L850.8 585.0L853.6 550.4L854.8 600.0L855.8 628.6L857.0 680.0L858.0 800.0L859.3 899.0L860.5 880.0L861.9 861.5L863.0 875.0L863.8 953.0L865.0 959.0L866.1 984.0L867.3 975.0L868.6 961.0L869.7 953.0L870.4 984.0L871.2 1031.0L872.0 1085.0L872.6 1200.0L873.2 1278.0L874.5 1231.0L875.4 1189.0L876.3 1158.0L877.4 1187.0L878.2 1130.0L879.0 1162.0L880.0 1162.0L881.0 1206.0L882.1 1169.0L883.2 1197.0L884.1 1169.0L884.7 1116.0L886.0 1091.0L886.7 1027.7L887.5 953.0L889.0 891.0L889.8 860.0L891.0 830.0L892.5 805.0L894.0 815.0L895.3 800.0L896.5 790.0L897.8 803.0L899.2 800.0L900.5 815.0L901.5 840.0L902.3 860.0L903.0 926.8L904.6 953.0L906.1 978.0L907.4 993.5L907.9 1120.0L908.4 1244.8L909.6 1277.0L911.0 1300.0L912.3 1334.7L913.4 1290.0L914.7 1241.0L916.2 1290.0L917.6 1275.8L918.1 1164.0L918.3 1015.0L919.3 998.0L920.9 1015.0L922.0 1026.0L923.2 1054.0L924.8 1066.5L925.6 1166.0L927.1 1091.0L928.2 1094.0L929.1 1164.0L930.2 1215.0L931.5 1290.0L932.5 1296.0L934.0 1347.0L935.6 1367.0L937.2 1383.0L939.3 1392.0L941.7 1383.0L943.4 1386.0L945.5 1377.0L947.9 1302.0L948.6 1240.0L949.6 1164.0L950.5 1110.0L952.0 1085.0L953.5 1015.0L955.1 968.7L956.6 945.4L958.6 948.5L959.7 968.7L961.3 1015.0L962.8 1062.0L963.6 1083.0L964.8 1133.0L966.0 1078.0L967.0 1151.0L968.3 1103.5L969.8 1105.0L971.4 1162.5L972.5 1122.0L973.7 1095.0L974.8 1122.0L976.0 1139.0L976.8 1164.0L977.3 1206.0L978.4 1178.0L980.0 1230.8L982.2 1220.0L983.8 1169.0L984.6 1164.0L985.3 1130.0L986.1 1085.0L987.7 1054.0L990.0 1038.6L991.6 1006.0L993.4 1015.0L995.0 998.0L997.0 1009.0L998.5 999.8L1000.9 990.4L1002.4 1004.0L1004.0 1002.9L1004.8 1030.8L1006.3 1046.0L1007.4 1106.6L1009.1 1127.5L1009.9 1006.7L1011.0 1015.0L1012.5 984.0L1014.0 962.5L1016.4 922.0L1018.0 875.5L1019.0 830.0L1020.0 806.0L1021.1 830.0L1022.6 891.0L1024.2 914.0L1025.0 968.7L1026.5 999.8L1028.0 1009.0L1029.1 1046.0L1029.6 1164.0L1030.4 1199.0L1031.5 1244.8L1033.5 1215.0L1035.0 1184.0L1036.6 1172.0L1037.4 1106.6L1038.9 1085.0L1040.5 1046.0L1042.0 1025.4L1043.6 1025.4L1044.7 1061.9L1045.9 1111.0L1047.5 1065.0L1049.0 1085.0L1049.8 1091.0L1051.3 1122.0L1052.1 1162.5L1053.7 1122.0L1055.2 1107.0L1056.8 1083.0L1057.5 1085.0L1059.1 1030.8L1059.9 953.0L1061.1 924.4L1062.2 937.6L1063.8 935.3L1064.5 984.0L1065.3 1038.6L1066.9 1035.5L1068.0 1028.5L1069.2 1046.0L1070.7 1062.0L1072.3 1085.0L1072.3 1164.0L1072.8 1245.0L1074.6 1286.6L1075.5 1240.0L1076.2 1173.0L1077.7 1178.0L1079.3 1209.0L1080.8 1187.0L1083.2 1209.0L1084.7 1169.0L1085.5 1134.5L1086.6 1118.7L1087.8 1134.5L1089.4 1144.0L1090.6 1164.0L1091.7 1176.0L1094.0 1185.8L1095.6 1178.0L1097.1 1159.0L1098.7 1172.0L1099.9 1185.0L1101.5 1178.0L1102.6 1159.0L1103.4 1106.6L1105.7 1085.0L1107.2 1069.6L1108.8 1054.0L1110.3 1065.0L1112.7 1056.4L1113.4 1077.0L1115.0 1085.0L1115.0 1111.0L1116.6 1125.0L1118.1 1141.0L1119.7 1164.0L1120.4 1189.0L1122.0 1209.0L1123.9 1235.0L1125.9 1215.0L1127.4 1184.0L1129.0 1181.0L1130.0 1208.0L1131.3 1184.0L1132.9 1164.0L1133.6 1119.0L1135.2 1102.0L1137.5 1091.0L1140.0 1086.4L1141.6 1109.6L1143.0 1130.6L1144.4 1105.0L1146.3 1087.5L1147.7 1080.5L1149.1 1100.3L1151.0 1081.7L1152.8 1042.1L1154.7 1053.7L1156.1 1091.0L1157.5 1093.3L1158.9 1149.2L1160.3 1109.6L1162.1 1132.9L1163.1 1124.8L1164.9 1171.4L1166.8 1124.8L1168.4 1128.3L1170.1 1151.6L1171.5 1132.9L1172.9 1167.9L1174.7 1174.8L1176.6 1156.2L1178.2 1151.6L1179.6 1178.3L1180.5 1112.0L1181.7 1132.9L1183.1 1171.4L1184.0 1100.3L1185.9 1116.6L1187.3 1074.7L1188.9 1086.3L1191.0 1047.9L1192.4 1051.4L1193.8 1034.6L1195.2 1053.7L1196.6 1056.1L1198.0 1100.3L1198.9 1109.6L1199.9 1164.8L1201.0 1184.2L1202.7 1202.8L1204.5 1179.5L1205.9 1198.1L1207.3 1173.7L1208.5 1221.4L1209.9 1179.5L1211.1 1164.8L1212.0 1123.6L1214.3 1116.6L1216.2 1151.6L1217.6 1132.9L1219.7 1098.0L1220.8 1123.6L1222.2 1112.0L1223.6 1078.2L1225.5 1105.0L1226.9 1077.0L1228.8 1102.6L1230.6 1068.9L1232.5 1098.0L1234.3 1058.4L1236.2 1105.0L1237.6 1079.3L1239.5 1109.6L1241.3 1093.3L1242.7 1114.3L1244.1 1063.0L1245.5 1086.3L1246.9 1061.9L1248.8 1118.9L1250.2 1102.6L1252.0 1068.9L1253.4 1121.3L1255.3 1086.3L1257.2 1063.0L1259.0 1049.1L1260.4 1025.8L1262.3 1009.5L1263.2 1049.1L1264.6 1003.6L1266.3 1009.5L1267.9 1016.5L1269.8 1067.7L1271.6 1044.4L1273.5 1039.8L1274.9 1088.7L1276.7 1049.1L1279.1 1036.3L1280.5 1049.1L1281.6 1012.3L1282.8 1039.8L1283.7 1032.8L1285.1 1100.3L1286.5 1070.0L1288.4 1086.3L1289.5 1164.8L1290.7 1214.4L1290.7 1234.9L1291.4 1258.2L1292.3 1286.2L1293.0 1291.3L1294.2 1280.4L1295.4 1279.2L1295.8 1246.6L1296.5 1208.6L1297.2 1262.9L1298.2 1261.7L1299.3 1244.3L1300.0 1234.9L1301.2 1214.4L1302.4 1132.9L1303.3 1101.5L1305.2 1115.5L1306.3 1179.5L1308.2 1170.2L1310.5 1209.8L1312.1 1193.5L1314.0 1167.9L1314.7 1223.8L1316.3 1198.1L1317.5 1124.8L1319.1 1167.9L1320.5 1102.6L1322.2 1086.3L1323.8 1021.1L1325.2 938.4L1326.8 946.6L1328.0 1079.3L1329.8 1011.8L1331.5 1006.0L1333.1 1049.1L1335.0 1086.3L1336.1 1163.2L1336.4 1234.9L1337.3 1272.7L1338.0 1138.7L1338.0 1234.9L1339.6 1156.2L1342.4 1236.1L1344.3 1202.8L1346.1 1164.8L1347.1 1194.6L1348.5 1156.2L1349.4 1212.1L1350.1 1077.0L1351.3 993.2L1352.4 948.9L1354.1 993.2L1355.9 955.9L1357.6 929.6L1359.2 960.6L1360.6 965.2L1361.5 1063.0L1362.5 1116.6L1363.9 1067.7L1365.2 1039.8L1366.6 1037.4L1368.0 1053.7L1369.4 1093.3L1370.6 1179.5L1372.2 1209.8L1372.7 1124.8L1374.6 1174.8L1376.0 1183.0L1377.4 1142.2L1378.8 1165.5L1379.9 1215.6L1381.6 1132.9L1383.4 1077.0L1385.0 1102.6L1386.7 1163.2L1388.1 1184.2L1389.0 1125.9L1390.9 1079.3L1392.7 1071.2L1394.1 1102.6L1395.1 1164.8L1395.8 1234.9L1396.0 1235.4L1396.2 1234.9L1397.4 1164.8L1399.0 1100.3L1400.7 1118.9L1402.5 1100.3L1404.4 1093.3L1405.5 1084.0L1406.5 969.9L1407.4 940.1L1408.6 974.5L1410.0 1011.8L1411.8 1011.8L1413.2 1044.4L1415.1 1039.8L1417.0 1072.4L1418.4 1044.4L1420.2 1035.1L1421.1 1058.4L1422.1 1016.5L1423.5 1044.4L1424.9 1088.7L1425.8 1056.1L1427.7 1053.7L1429.3 1077.0L1430.9 1116.6L1432.3 1065.4L1433.5 1142.2L1435.6 1139.9L1437.5 1056.1L1439.3 1109.6L1440.7 1081.7L1441.9 1049.5L1443.3 1123.6L1444.9 1084.0L1446.3 1063.0L1447.9 1067.7L1449.6 1098.0L1451.4 1052.6L1452.8 1054.9L1454.2 1112.0L1456.1 1070.0L1458.0 1086.3L1459.6 1109.6L1461.2 1118.9L1462.6 1164.8L1463.5 1173.7L1465.4 1179.5L1466.8 1144.6L1468.2 1156.2L1469.6 1132.9L1471.2 1121.3L1472.9 1118.9L1475.2 1106.8L1476.6 1128.3L1478.2 1164.8L1479.4 1198.1L1480.8 1234.9L1481.2 1246.6L1482.2 1288.5L1483.3 1300.6L1484.5 1288.5L1485.9 1286.2L1487.3 1281.5L1488.2 1246.6L1489.2 1241.9L1490.1 1234.9L1491.0 1212.1L1491.3 1234.9L1491.7 1257.1L1492.2 1164.8L1492.4 1234.9L1492.9 1132.9L1494.5 1123.6L1496.1 1116.6L1497.5 1142.2L1499.2 1112.4L1500.3 1132.9L1501.7 1164.8L1502.7 1181.8L1505.0 1156.2L1506.9 1188.8L1508.7 1234.9L1509.2 1241.5L1509.7 1234.9L1510.8 1202.8L1512.0 1164.8L1513.4 1146.9L1514.3 1174.8L1515.7 1137.1L1516.6 1164.8L1518.0 1186.5L1519.4 1151.6L1521.3 1132.9L1522.7 1164.8L1524.1 1123.6L1525.5 1113.8L1526.7 1164.8L1527.8 1198.1L1528.8 1164.8L1530.2 1109.6L1531.1 1079.3L1533.0 1063.0L1535.3 1030.4L1536.7 1000.2L1538.1 993.2L1539.5 986.2L1540.6 1025.8L1541.8 1039.8L1543.4 1086.3L1544.6 1098.0L1545.8 1132.9L1546.9 1121.3L1548.1 1198.1L1549.3 1202.8L1549.7 1146.9L1551.1 1195.8L1552.7 1164.8L1553.9 1132.9L1555.3 1114.3L1556.7 1099.1L1558.1 1132.9L1559.7 1122.4L1560.9 1164.8L1562.1 1191.1L1563.2 1164.8L1564.4 1164.8L1565.6 1216.8L1567.4 1234.9L1567.9 1200.5L1567.9 1241.9L1569.8 1260.6L1570.9 1279.2L1572.1 1288.0L1573.5 1269.9L1574.9 1246.6L1575.6 1234.9L1576.0 1226.1L1577.2 1234.9L1577.7 1246.6L1579.1 1314.1L1580.5 1300.2L1581.9 1269.9L1583.3 1239.6L1584.7 1316.5L1586.1 1339.8L1587.5 1386.3L1588.6 1414.8L1589.8 1377.0L1591.2 1339.8L1592.6 1293.2L1594.0 1333.9L1594.9 1294.3L1595.8 1269.9L1596.5 1234.9L1597.0 1200.5L1598.2 1164.8L1599.8 1150.4L1601.2 1170.2L1602.8 1156.2L1604.5 1149.9L1606.1 1191.1L1606.1 1234.9L1606.6 1241.9L1608.9 1164.8L1608.9 1252.4L1609.8 1234.9L1610.3 1157.4L1611.7 1202.8L1613.3 1228.4L1614.9 1164.8L1616.3 1132.9L1617.3 1121.7L1618.7 1146.9L1620.1 1164.8L1621.5 1216.8L1622.9 1164.8L1624.0 1156.2L1625.4 1202.8L1627.0 1164.8L1628.4 1229.6L1630.3 1234.9L1630.8 1236.1L1631.2 1234.9L1631.9 1179.5L1633.8 1160.9L1635.4 1193.5L1637.3 1156.2L1638.9 1150.4L1640.1 1181.8L1641.3 1150.4L1642.4 1164.8L1643.6 1146.9L1644.5 1121.7L1645.7 1164.8L1647.1 1188.8L1648.9 1156.2L1650.8 1157.4L1651.7 1164.8L1654.1 1202.8L1655.9 1234.9L1656.4 1216.8L1656.4 1237.7L1656.9 1234.9L1661.1 1198.1L1662.5 1155.0L1664.1 1139.9L1665.5 1124.3L1666.9 1164.8L1668.5 1146.9L1669.9 1167.9L1671.1 1132.9L1672.2 1124.8L1673.6 1164.8L1675.0 1193.5L1679.2 1164.8L1680.2 1132.9L1681.6 1086.3L1683.2 1044.4L1684.3 1026.9L1686.2 1063.0L1687.6 1016.5L1689.2 996.7L1690.9 1011.8L1691.8 1063.0L1693.2 1107.3L1694.1 1164.8L1694.8 1191.1L1696.5 1198.1L1698.3 1167.9L1700.0 1212.1L1703.4 1202.8L1705.3 1226.1L1707.2 1209.8L1709.0 1174.8L1710.4 1202.8L1711.8 1164.8L1713.7 1157.4L1715.1 1209.8L1717.0 1226.1L1717.0 1234.9L1718.8 1258.2L1720.5 1272.2L1722.1 1241.9L1723.9 1259.4L1725.8 1234.9L1730.0 1123.6L1731.9 1109.6L1733.3 1130.6L1735.1 1112.0L1736.5 1164.8L1737.5 1214.4L1738.9 1160.9L1740.5 1214.4L1741.6 1234.9L1742.1 1237.3L1744.0 1253.6L1745.4 1259.4L1746.5 1269.9L1748.2 1186.5L1748.2 1246.6L1748.6 1234.9L1749.8 1202.8L1751.4 1174.8L1753.3 1174.8L1754.7 1209.8L1756.8 1216.8L1757.5 1234.9L1758.0 1177.2L1758.0 1293.2L1758.9 1339.8L1760.5 1356.1L1761.7 1344.4L1763.1 1339.8L1764.0 1326.9L1764.9 1335.1L1766.3 1325.8L1767.3 1316.5L1768.7 1307.1L1769.6 1342.1L1770.8 1311.8L1771.5 1269.9L1771.7 1234.9L1772.2 1099.8L1772.9 1118.9L1774.3 1153.9L1775.7 1123.6L1777.3 1086.3L1778.9 1093.3L1780.3 1102.6L1781.7 1107.3L1782.6 1164.8L1783.3 1186.5L1784.0 1164.8L1785.4 1122.4L1786.8 1132.9L1788.2 1179.5L1789.6 1201.6L1791.0 1164.8L1792.4 1144.6L1793.4 1132.9L1794.8 1164.8L1796.1 1202.8L1797.5 1228.4L1799.4 1202.8L1801.3 1188.8L1802.7 1202.8L1802.7 1234.9L1803.8 1251.7L1805.0 1234.9L1805.7 1226.1L1807.3 1216.8L1808.7 1193.5L1809.9 1164.8L1811.1 1149.2L1812.5 1164.8L1813.4 1179.5L1814.3 1125.9L1816.2 1102.6L1818.0 1100.3L1819.4 1091.0L1821.3 1109.6L1823.2 1086.3L1825.0 1063.0L1826.4 1051.4L1827.8 1053.7L1829.0 1081.7L1830.6 1084.0L1832.5 1102.6L1834.3 1116.6L1836.0 1109.6L1837.6 1112.0L1839.0 1142.2L1840.4 1164.8L1841.3 1124.8L1842.7 1164.8L1844.1 1195.8L1845.5 1216.8L1846.9 1228.4L1848.8 1214.4L1850.0 1164.8L1850.7 1139.9L1852.5 1125.9L1854.6 1074.7L1856.2 1044.4L1857.9 1014.6L1859.5 1039.8L1860.9 1063.0L1862.3 1086.3L1863.7 1109.6L1865.1 1102.6L1866.5 1132.9L1867.9 1156.2L1868.8 1173.7L1870.2 1160.9L1871.6 1164.8L1873.0 1178.3L1874.4 1150.4L1876.3 1164.8L1877.7 1147.4L1879.1 1164.8L1880.2 1170.2L1881.9 1184.2L1883.3 1164.8L1884.2 1212.1L1885.6 1220.3L1887.0 1179.5L1888.4 1164.8L1889.8 1156.2L1891.2 1145.7L1892.6 1164.8L1894.0 1153.9L1895.1 1167.9L1896.3 1144.1L1897.2 1179.5L1898.6 1202.8L1900.0 1198.1L1901.4 1213.3L1903.3 1214.4L1904.7 1188.8L1906.1 1164.8L1907.5 1156.2L1908.9 1142.2L1910.7 1132.9L1912.4 1119.6L1914.0 1142.2L1915.6 1132.2L1917.0 1156.2L1918.2 1158.5L1919.1 1193.5L1921.0 1174.8L1922.9 1192.3L1924.7 1179.5L1926.4 1164.8L1928.0 1206.3L1929.8 1157.4L1931.7 1151.6L1933.6 1139.9L1935.0 1164.8L1936.6 1137.6L1938.0 1186.5L1939.6 1138.7L1941.0 1156.2L1942.4 1191.1L1944.3 1202.8L1945.7 1205.1L1947.1 1188.8L1947.3 1234.9L1948.0 1251.2L1949.4 1281.5L1950.6 1297.4L1951.7 1288.5L1953.1 1281.5L1954.5 1279.2L1955.9 1274.5L1957.3 1267.5L1958.3 1246.6L1958.7 1234.9L1960.6 1164.8L1961.8 1132.9L1963.6 1123.6L1965.7 1109.6L1967.1 1123.6L1968.5 1117.8L1969.9 1144.6L1971.3 1156.2L1972.7 1164.8L1973.6 1199.3L1975.0 1160.9L1976.4 1193.5L1977.8 1164.8L1978.8 1156.2L1980.2 1130.6L1981.6 1156.2L1983.0 1172.5L1984.3 1156.2L1985.7 1179.5L1987.1 1132.9L1989.0 1127.1L1990.4 1144.6L1991.3 1165.5L1992.5 1186.0L1993.7 1142.2L1995.1 1144.6L1996.5 1170.2L1997.9 1135.7L1999.3 1156.2L2000.7 1146.9L2002.0 1181.8L2003.4 1155.0L2004.8 1198.1L2006.2 1205.1L2007.2 1164.8L2008.1 1117.3L2009.5 1132.9L2010.4 1164.8L2011.8 1202.8L2013.7 1221.4L2017.0 1177.2L2017.9 1234.9L2019.1 1265.2L2020.5 1279.7L2021.6 1258.2L2022.5 1234.9L2023.5 1234.9L2023.9 1246.6L2025.1 1255.9L2026.3 1238.4L2027.7 1253.6L2029.1 1262.9L2030.5 1278.7L2031.9 1267.5L2033.0 1248.9L2033.5 1234.9L2035.1 1191.1L2036.5 1163.2L2037.9 1164.8L2039.3 1204.0L2040.7 1164.8L2042.1 1141.1L2044.0 1146.9L2045.4 1164.8L2046.8 1179.5L2048.2 1202.8L2049.6 1214.4L2051.0 1174.8L2052.4 1223.8L2054.2 1226.1L2057.5 1200.5L2058.0 1234.9L2058.4 1246.6L2059.3 1259.4L2060.0 1234.9L2062.1 1234.9L2062.6 1246.6L2063.3 1234.9L2065.4 1207.5L2067.3 1200.5L2068.9 1223.8L2070.5 1188.8L2071.9 1202.8L2073.3 1174.8L2074.7 1155.0L2076.1 1164.8L2077.5 1198.1L2078.9 1207.5L2080.3 1179.5L2081.7 1164.8L2083.6 1156.2L2085.0 1174.8L2086.4 1164.8L2087.8 1158.5L2089.2 1167.9L2091.0 1153.9L2092.4 1164.8L2093.8 1177.2L2095.2 1184.2L2097.1 1198.1L2098.5 1181.8L2100.3 1202.8L2101.7 1214.4L2103.1 1221.4L2105.0 1229.6L2106.9 1212.1L2108.7 1209.8L2110.1 1193.5L2112.0 1198.1L2113.2 1164.8L2113.9 1125.9L2115.7 1109.6L2117.3 1095.7L2118.5 1123.6L2120.4 1109.6L2121.8 1132.9L2123.2 1144.6L2125.0 1109.6L2126.4 1132.9L2127.8 1151.6L2128.8 1178.3L2130.2 1142.2L2132.0 1135.2L2133.4 1153.9L2134.8 1134.1L2136.4 1156.2L2138.1 1163.2L2139.9 1135.2L2141.8 1156.2L2143.2 1149.2L2144.6 1163.2L2146.0 1137.6L2147.6 1156.2L2149.3 1174.8L2150.7 1160.9L2152.0 1164.8L2153.4 1179.5L2155.3 1193.5L2156.7 1223.8L2158.6 1228.4L2160.0 1212.1L2161.4 1207.5L2162.8 1179.5L2164.2 1164.8L2165.1 1132.9L2166.3 1116.6L2167.4 1105.4L2168.8 1123.6L2170.2 1121.3L2171.6 1130.6L2173.0 1121.3L2174.4 1125.9L2175.8 1146.9L2177.2 1173.7L2178.6 1164.8L2180.0 1132.9L2181.4 1119.4L2182.8 1142.2L2184.2 1156.2L2185.6 1164.8L2187.0 1188.8L2188.4 1150.4L2189.8 1179.5L2191.2 1198.1L2193.0 1207.5L2194.9 1221.4L2196.8 1233.1L2199.1 1234.9L2199.6 1234.9L2200.0 1202.8L2201.2 1254.0L2201.4 1230.7L2202.8 1244.3L2203.8 1234.9L2205.2 1226.1L2207.0 1202.8L2209.3 1234.9L2209.8 1237.3L2211.2 1188.8L2211.2 1247.3L2212.1 1241.9L2212.6 1179.5L2212.6 1234.9L2214.0 1164.8L2214.9 1157.4L2216.3 1164.8L2217.7 1191.1L2219.1 1179.5L2220.5 1164.8L2221.9 1142.2L2223.3 1124.8L2224.7 1156.2L2226.1 1164.8L2227.5 1179.5L2228.9 1146.9L2230.3 1137.6L2232.2 1132.9L2233.6 1142.2L2235.4 1125.9L2237.3 1130.6L2239.2 1116.1L2240.6 1132.9L2242.0 1117.8L2243.4 1137.6L2244.8 1128.3L2246.1 1144.6L2247.5 1160.9L2248.9 1132.9L2250.3 1123.6L2251.7 1142.2L2253.6 1121.3L2255.5 1130.6L2256.9 1122.4L2258.7 1121.3L2260.1 1132.9L2261.5 1156.2L2262.9 1164.8L2264.3 1196.3L2265.7 1164.8L2266.6 1125.9L2268.0 1102.6L2269.9 1100.3L2271.3 1109.6L2273.2 1091.0L2274.6 1072.4L2276.2 1061.2L2277.8 1077.0L2279.2 1123.6L2280.6 1125.9L2282.5 1074.7L2283.9 1109.6L2285.3 1084.0L2286.7 1102.6L2288.1 1100.3L2289.0 1132.9L2290.4 1142.2L2291.8 1164.8L2293.2 1177.2L2294.6 1191.1L2296.0 1212.1L2297.4 1179.5L2298.8 1167.9L2300.0 1202.8L2301.9 1195.8L2303.3 1174.8L2304.7 1188.8L2306.1 1164.8L2307.5 1159.0L2308.9 1191.1L2310.2 1164.8L2311.6 1159.7L2313.0 1183.0L2314.4 1164.8L2315.8 1163.2L2317.2 1179.5L2318.6 1164.8L2320.5 1164.8L2321.9 1184.2L2323.3 1164.8L2325.2 1164.8L2326.6 1179.5L2328.4 1192.3L2329.8 1164.8L2330.7 1158.1L2332.1 1184.2L2334.0 1174.8L2335.4 1159.7L2336.8 1164.8L2338.2 1163.2L2339.6 1183.0L2341.0 1188.8L2341.9 1204.0L2343.3 1164.8L2344.3 1148.8L2345.7 1190.0L2347.0 1164.8L2348.4 1160.9L2349.8 1142.2L2351.7 1139.9L2353.6 1124.8L2355.0 1142.2L2356.1 1146.9L2357.5 1130.1L2358.7 1156.2L2360.1 1164.8L2361.0 1172.5L2362.4 1144.1L2363.8 1149.2L2365.2 1158.5L2367.1 1143.4L2368.5 1156.2L2369.9 1142.2L2371.3 1156.2L2372.7 1164.8L2374.1 1192.3L2375.9 1179.5L2377.3 1192.3L2378.7 1177.2L2380.6 1192.3L2382.0 1164.8L2383.4 1156.2L2385.2 1146.9L2386.6 1142.2L2388.0 1151.6L2389.9 1139.9L2391.8 1142.2L2393.6 1135.2L2395.5 1131.8L2397.4 1135.2L2399.2 1142.2L2400.6 1164.8L2402.0 1177.2L2403.4 1179.5L2404.8 1191.1L2406.2 1200.5L2407.6 1209.8L2409.0 1191.1L2410.4 1195.8L2411.8 1181.8L2413.2 1184.2L2414.6 1164.8L2416.0 1174.8L2417.4 1164.8L2419.3 1155.7L2420.7 1164.8L2422.0 1185.3L2423.4 1164.8L2424.8 1177.2L2426.2 1164.8L2428.1 1160.9L2429.5 1164.8L2430.4 1198.1L2431.8 1207.5L2433.2 1183.0L2434.6 1212.1L2436.0 1221.4L2437.9 1225.6L2439.3 1209.8L2440.7 1198.1L2442.1 1216.8L2443.5 1191.1L2444.9 1179.5L2446.3 1202.8L2447.7 1221.4L2449.1 1233.1L2450.9 1239.6L2451.4 1243.8L2451.9 1226.1L2451.9 1239.6L2453.3 1202.8L2454.7 1186.5L2456.1 1193.5L2457.5 1179.5L2458.9 1164.8L2460.2 1155.0L2461.6 1164.8L2463.0 1188.8L2464.4 1209.8L2465.8 1223.8L2469.6 1226.1L2471.4 1212.1L2472.8 1202.8L2474.2 1179.5L2475.6 1164.8L2477.0 1160.9L2478.4 1145.7L2479.8 1164.8L2480.7 1195.8L2482.1 1164.8L2484.0 1158.5L2485.4 1185.3L2486.8 1164.8L2487.7 1184.2L2489.1 1137.6L2490.5 1164.8L2491.9 1127.8L2492.9 1179.5L2494.3 1198.1L2496.1 1212.1L2498.0 1226.1L2499.8 1234.9L2500.3 1237.7L2500.8 1234.9L2503.6 1230.7L2505.0 1164.8L2506.4 1144.6L2507.8 1109.6L2509.6 1095.7L2512.0 1088.7L2513.8 1107.3L2515.7 1085.2L2517.1 1084.0L2518.9 1065.8L2520.3 1102.6L2521.7 1109.6L2523.1 1132.9L2524.5 1156.2L2525.9 1164.8L2527.3 1158.1L2528.3 1164.8L2529.2 1223.8L2530.6 1212.1L2532.0 1179.5L2533.9 1200.5L2535.2 1172.5L2536.6 1200.5L2538.5 1195.8L2540.4 1172.5L2542.2 1209.8L2544.1 1221.4L2546.0 1246.6L2546.4 1264.1L2546.9 1246.6L2548.3 1179.5L2549.7 1164.8L2551.1 1146.9L2552.5 1123.6L2553.9 1109.6L2555.3 1105.0L2557.1 1088.7L2558.5 1063.0L2560.4 1011.8L2561.8 1039.8L2563.2 1025.8L2564.6 1051.4L2566.0 1015.3L2567.4 1030.4L2569.0 1019.3L2570.2 1093.3L2571.4 1109.6L2572.5 1164.8L2573.0 1239.6L2573.2 1243.8L2573.4 1239.6L2574.4 1164.8L2575.3 1142.2L2576.2 1118.9L2577.2 1186.5L2578.6 1164.8L2579.5 1086.3L2580.9 1051.4L2582.1 1038.6L2583.7 1051.4L2585.1 1049.1L2586.0 1123.6L2587.4 1086.3L2588.8 1074.7L2589.8 1065.8L2591.1 1109.6L2592.5 1118.9L2593.5 1156.2L2594.4 1164.8L2595.3 1146.9L2596.7 1149.2L2598.1 1164.8L2599.5 1221.4L2601.4 1230.7L2602.8 1202.8L2603.7 1164.8L2604.7 1142.2L2606.1 1132.9L2607.5 1151.6L2608.9 1123.6L2610.5 1105.4L2611.6 1149.2L2613.0 1132.9L2614.4 1153.9L2615.8 1146.9L2617.2 1164.8L2618.6 1228.4L2620.0 1221.4L2621.4 1191.1L2622.8 1164.8L2623.3 1139.9L2624.7 1142.2L2626.1 1144.6L2628.0 1116.6L2629.8 1102.6L2631.7 1081.7L2633.1 1102.6L2634.5 1086.3L2635.9 1078.2L2637.3 1128.3L2639.1 1086.3L2641.0 1077.0L2642.6 1063.0L2644.3 1081.7L2645.7 1105.0L2647.5 1084.0L2649.1 1068.9L2650.8 1077.0L2652.2 1072.4L2654.0 1086.3L2655.4 1102.6L2657.3 1098.0L2658.7 1109.6L2659.6 1127.1L2661.0 1109.6L2662.4 1121.3L2663.8 1086.3L2665.2 1051.4L2666.6 1021.1L2668.0 1011.8L2669.4 1014.1L2670.6 1002.5L2672.2 1021.1L2673.6 1018.8L2675.0 1039.8L2676.9 1049.1L2678.3 1063.0L2680.1 1051.4L2681.5 1074.7L2683.4 1065.4L2684.8 1156.2L2686.2 1164.8L2687.1 1234.9L2687.3 1235.4L2687.6 1234.9L2688.5 1164.8L2689.4 1128.3L2690.8 1086.3L2691.8 1065.4L2693.3 1000.0L2694.4 930.0L2695.4 800.0L2696.5 694.0L2697.7 659.0L2697.9 1164.0L2697.9 1164.6Z" fill="#6ca6cf" fill-opacity="0.82" stroke="none"/>
<path d="M352.6 1141.5L353.1 1138.3L353.9 1135.1L354.5 1131.8L356.0 1130.0L356.4 1127.6L357.1 1131.1L357.8 1134.7L359.3 1131.8L361.3 1130.9L363.2 1133.8L364.1 1137.6L365.1 1141.5L366.0 1144.0L367.0 1146.3L369.0 1150.2L369.3 1146.2L370.5 1142.5L372.5 1146.3L374.4 1143.4L375.3 1146.3L376.3 1149.2L377.3 1151.2L378.6 1153.1L381.0 1151.1L383.5 1152.1L384.1 1154.7L385.4 1156.9L386.4 1160.1L386.6 1163.3L386.8 1166.6L387.0 1163.2L388.8 1160.3L389.3 1156.9L390.0 1159.5L391.2 1161.8L393.1 1158.9L394.7 1161.6L395.1 1164.7L396.7 1161.5L397.0 1157.9L398.9 1159.8L401.4 1158.9L402.0 1161.1L403.8 1162.7L406.7 1161.8L409.2 1159.8L410.7 1157.5L411.9 1155.0L413.0 1158.0L414.4 1160.8L416.9 1159.8L419.2 1159.8L420.8 1161.5L421.5 1163.7L423.4 1165.3L424.0 1167.6L425.3 1165.7L426.6 1163.7L428.5 1161.8L430.2 1163.4L430.8 1165.6L432.7 1163.7L434.3 1165.9L435.1 1168.5L437.6 1165.6L439.5 1169.5L440.4 1166.9L442.0 1164.7L442.6 1161.5L444.3 1158.9L446.6 1157.9L447.9 1159.8L449.2 1161.8L450.3 1158.4L451.7 1155.0L454.0 1156.9L455.9 1160.8L458.2 1157.9L460.7 1156.9L461.3 1159.7L462.7 1162.1L463.6 1164.7L465.0 1161.8L466.0 1158.9L468.5 1158.9L469.9 1156.0L471.4 1153.1L472.6 1150.3L473.3 1147.3L473.6 1144.2L473.8 1141.1L475.2 1138.1L475.5 1135.0L475.2 1131.8L476.3 1128.7L476.8 1125.4L477.2 1122.2L477.3 1118.8L477.6 1115.4L478.0 1112.0L478.7 1108.6L479.1 1104.6L480.6 1100.9L481.8 1098.1L482.2 1095.1L483.2 1098.5L483.9 1101.9L485.3 1104.8L485.3 1108.1L486.5 1111.2L486.8 1114.4L486.8 1117.8L487.6 1121.0L488.8 1124.1L489.9 1127.4L490.1 1130.8L489.6 1134.3L490.7 1137.6L491.1 1134.7L492.3 1131.9L492.0 1128.9L492.6 1126.0L494.6 1129.9L494.3 1126.7L495.4 1123.7L495.9 1120.7L495.5 1117.5L496.1 1114.4L498.0 1111.5L499.4 1112.5L499.5 1108.5L500.7 1104.8L501.7 1107.6L502.3 1110.6L502.1 1113.8L502.9 1116.9L504.3 1119.9L504.2 1123.1L504.2 1120.2L504.4 1117.3L504.8 1114.4L505.8 1111.5L505.9 1114.5L507.2 1117.3L507.3 1120.2L508.5 1124.1L508.9 1121.2L509.2 1118.3L509.2 1115.4L510.0 1112.5L510.1 1115.5L511.3 1118.2L511.0 1121.2L512.1 1124.0L511.9 1127.0L512.2 1123.6L512.3 1120.2L512.8 1116.8L513.5 1113.5L513.2 1116.7L513.8 1119.8L514.9 1122.9L515.0 1126.0L515.9 1122.9L515.2 1119.6L515.8 1116.4L516.7 1113.2L516.7 1110.0L516.8 1106.7L518.1 1102.9L518.3 1098.9L519.7 1095.1L519.5 1098.8L521.1 1102.2L521.2 1105.7L521.3 1102.5L522.5 1099.4L522.6 1096.1L523.9 1095.1L524.5 1098.0L525.0 1100.9L525.7 1103.7L525.5 1106.7L525.9 1103.6L527.4 1100.9L527.5 1104.1L528.3 1107.3L528.0 1110.6L528.6 1113.8L528.7 1117.0L528.9 1120.2L528.5 1123.3L529.4 1126.3L529.4 1129.4L529.2 1132.4L530.4 1135.4L530.6 1138.4L530.3 1141.5L530.4 1145.0L531.6 1148.3L533.2 1145.4L534.1 1142.0L533.8 1138.5L534.2 1135.2L535.1 1131.8L535.8 1128.4L536.5 1124.9L535.9 1121.4L537.3 1118.0L537.1 1114.4L538.1 1111.1L538.2 1107.7L538.4 1104.3L539.0 1100.9L538.6 1097.7L538.7 1094.6L540.2 1091.5L539.3 1088.3L540.2 1085.1L539.7 1081.9L540.7 1078.8L540.5 1075.6L540.3 1072.5L540.3 1069.3L540.9 1066.1L541.7 1062.8L541.3 1059.3L542.0 1055.9L542.9 1052.6L543.3 1049.7L544.1 1046.9L544.2 1043.9L544.4 1041.0L544.8 1038.1L545.7 1035.2L547.1 1031.4L548.6 1035.2L548.6 1038.7L550.0 1041.9L550.8 1045.3L550.6 1048.8L550.8 1045.5L551.5 1042.3L552.1 1039.1L551.6 1035.8L551.8 1032.5L552.2 1029.3L552.5 1026.0L552.0 1022.7L552.4 1019.5L553.2 1016.2L553.4 1013.0L553.0 1009.7L553.1 1006.4L553.1 1003.1L552.5 999.9L553.1 996.6L552.6 993.2L552.8 989.9L554.2 986.7L554.1 983.4L554.7 980.1L553.6 976.7L554.4 973.4L555.0 970.1L555.2 966.6L555.9 963.3L556.0 959.9L556.7 956.9L557.9 954.1L559.3 951.0L558.6 947.5L559.9 944.4L559.9 947.3L560.0 950.2L560.7 947.2L561.2 944.2L561.3 941.2L561.6 938.1L562.1 935.1L562.6 932.1L562.3 929.0L562.9 932.1L562.8 935.2L562.9 938.3L563.3 941.4L564.3 944.4L564.5 947.7L564.0 950.9L564.0 954.1L564.5 957.3L564.6 960.6L565.0 963.8L564.8 967.0L564.9 970.2L565.7 973.4L565.0 976.7L564.6 979.9L565.4 983.1L565.0 986.2L565.3 989.3L565.9 992.5L565.5 995.6L565.8 998.7L566.1 1001.8L565.7 1005.0L566.8 1008.0L566.0 1011.2L567.1 1014.3L566.4 1017.4L566.7 1020.5L566.8 1023.7L567.4 1027.0L567.0 1030.5L567.5 1033.8L567.6 1037.2L567.4 1040.6L568.6 1043.9L569.1 1047.3L568.7 1050.7L569.3 1053.9L569.1 1057.2L570.1 1060.3L570.4 1063.6L569.7 1066.9L570.6 1070.0L570.7 1073.3L571.4 1076.5L571.0 1079.8L572.2 1082.9L572.0 1086.2L572.6 1089.4L573.9 1093.1L574.5 1097.1L575.3 1100.0L575.8 1102.9L575.9 1106.1L576.2 1109.3L576.8 1112.4L577.8 1115.5L578.1 1111.9L578.9 1108.4L579.3 1104.8L581.3 1101.9L582.2 1105.4L583.0 1108.9L583.2 1112.6L584.2 1115.9L585.1 1119.3L585.2 1122.9L585.7 1126.5L586.7 1130.0L587.2 1126.9L587.7 1123.8L587.0 1120.6L587.1 1117.5L587.7 1114.4L587.6 1111.3L587.8 1108.1L588.3 1105.0L588.6 1101.9L588.7 1105.2L589.2 1108.5L589.8 1111.8L589.4 1115.1L590.1 1118.4L589.6 1121.7L590.6 1124.9L591.3 1128.2L591.5 1131.5L590.5 1134.8L591.8 1138.0L591.1 1141.4L591.4 1144.6L592.0 1147.9L591.9 1151.2L592.2 1154.7L593.2 1158.0L592.9 1155.0L593.3 1152.1L594.1 1149.3L593.8 1146.3L594.8 1143.5L595.6 1140.6L595.2 1137.6L595.4 1134.7L596.3 1131.9L596.2 1128.6L597.5 1125.5L597.9 1122.2L598.2 1125.2L598.1 1128.3L598.3 1131.3L598.3 1134.3L598.3 1137.4L598.9 1140.4L599.8 1143.3L599.6 1146.4L599.9 1143.2L599.8 1140.0L599.9 1136.9L601.0 1133.8L601.7 1130.9L602.5 1128.0L603.2 1125.2L602.8 1122.2L603.4 1119.3L604.1 1116.4L604.6 1119.5L604.5 1122.7L605.0 1125.8L605.4 1129.0L605.8 1125.6L606.2 1122.2L605.9 1118.8L606.7 1115.5L607.1 1112.1L606.8 1108.7L608.3 1112.6L609.2 1115.6L608.3 1118.9L608.9 1122.0L609.5 1125.1L609.1 1121.8L609.7 1118.6L610.1 1115.3L610.6 1112.1L610.0 1108.8L610.4 1105.6L611.0 1102.3L610.6 1099.0L612.2 1095.2L613.7 1093.2L615.1 1091.3L616.0 1088.5L616.0 1085.5L617.0 1082.7L616.7 1079.7L617.3 1076.8L617.4 1073.9L618.0 1077.4L617.5 1080.9L617.6 1084.4L618.1 1087.8L618.6 1091.3L618.5 1094.7L619.4 1098.0L618.7 1101.5L619.5 1104.8L620.7 1101.9L620.2 1104.9L620.5 1107.8L621.3 1110.6L621.2 1113.6L621.8 1116.4L623.4 1112.6L623.9 1115.8L623.4 1119.2L623.7 1122.5L624.7 1125.7L624.7 1129.0L624.6 1125.4L625.6 1121.9L626.1 1118.4L626.3 1121.5L626.3 1124.6L627.0 1127.6L628.0 1130.7L627.6 1133.8L628.4 1131.0L627.6 1128.0L629.0 1125.2L628.4 1122.2L629.2 1119.3L629.6 1122.4L629.2 1125.5L630.4 1128.5L630.6 1131.5L630.3 1134.6L630.5 1137.7L631.9 1134.8L631.9 1137.7L632.0 1140.6L632.5 1143.5L632.5 1146.4L633.4 1149.3L633.8 1152.8L633.6 1156.4L634.6 1159.9L634.3 1156.5L634.8 1153.1L635.5 1149.8L635.5 1146.4L636.4 1143.0L636.3 1139.6L636.7 1142.9L637.3 1146.1L637.9 1149.3L638.5 1146.3L638.3 1143.2L638.2 1140.1L638.5 1137.1L639.3 1134.1L639.6 1131.1L639.2 1128.0L639.9 1131.2L639.3 1134.5L639.3 1137.7L640.2 1140.9L640.4 1144.1L640.8 1147.3L640.5 1144.0L641.1 1140.8L641.2 1137.5L641.5 1134.2L640.8 1130.9L642.2 1127.7L641.7 1124.3L641.7 1121.1L642.4 1117.8L642.1 1114.5L643.5 1112.6L644.0 1109.2L644.2 1105.8L644.9 1102.4L645.0 1099.0L646.0 1102.3L645.7 1105.8L646.3 1109.2L646.6 1112.6L647.5 1109.5L647.7 1106.4L647.1 1103.3L647.6 1100.2L647.9 1097.1L649.9 1093.2L649.6 1090.1L650.3 1087.0L651.1 1084.0L651.5 1080.9L651.2 1077.8L652.8 1073.9L653.2 1070.7L653.4 1067.4L654.1 1064.3L654.0 1060.8L654.9 1057.5L655.6 1054.2L655.3 1050.7L656.0 1054.0L655.3 1057.4L656.5 1060.6L656.5 1064.0L656.6 1067.3L656.2 1070.6L656.6 1073.9L657.3 1077.1L657.7 1080.3L658.0 1083.6L658.1 1086.5L659.2 1089.3L658.7 1092.3L659.3 1095.2L659.0 1092.1L659.7 1089.1L659.5 1086.0L659.6 1083.0L660.2 1080.0L660.2 1076.9L660.5 1073.9L660.6 1070.5L660.9 1067.1L661.4 1063.8L661.6 1060.4L662.8 1058.5L663.6 1061.3L663.8 1064.2L663.5 1067.2L664.0 1070.0L664.0 1073.1L664.3 1076.2L664.1 1079.3L664.6 1082.3L664.4 1085.4L665.1 1088.4L664.9 1085.0L665.8 1081.7L666.1 1078.3L666.5 1074.9L665.8 1071.5L666.3 1068.1L666.8 1071.5L666.3 1074.9L667.5 1078.2L667.4 1081.6L668.3 1078.3L668.3 1074.9L667.4 1071.5L667.7 1068.1L668.5 1064.7L668.0 1061.3L667.9 1057.9L668.6 1054.6L669.3 1051.7L669.0 1048.8L669.7 1045.9L669.0 1043.0L669.8 1040.1L670.2 1043.2L670.1 1046.4L671.3 1049.5L670.9 1052.7L670.6 1049.5L671.5 1046.4L671.9 1043.3L672.2 1040.1L671.1 1036.9L671.8 1033.8L672.3 1030.7L672.1 1027.5L673.2 1025.6L673.6 1028.8L673.8 1032.1L674.4 1035.3L674.0 1032.1L673.9 1029.0L674.1 1025.9L674.0 1022.8L674.8 1019.7L674.9 1016.5L675.0 1013.4L674.5 1010.3L674.6 1007.2L674.7 1004.0L675.7 1000.9L676.0 997.8L675.4 994.7L675.1 998.1L676.5 1001.4L676.8 1004.8L676.5 1008.2L676.2 1011.4L677.1 1014.4L677.0 1017.5L677.8 1020.6L677.9 1023.7L678.0 1026.8L678.0 1030.0L678.2 1033.1L678.0 1036.2L678.9 1039.4L678.0 1042.5L677.9 1045.7L678.9 1048.8L678.6 1051.9L678.3 1055.1L678.8 1058.2L679.2 1061.3L679.3 1064.5L678.9 1067.6L679.6 1070.8L679.0 1073.9L678.6 1077.3L678.8 1080.6L679.1 1083.9L679.0 1087.3L679.4 1090.6L679.8 1093.9L679.6 1097.3L679.9 1100.6L679.3 1104.0L679.7 1107.3L680.2 1110.6L680.0 1107.3L681.0 1104.0L680.9 1100.6L681.0 1097.3L681.2 1094.0L680.7 1090.6L681.5 1087.3L681.6 1083.9L681.4 1080.6L681.6 1077.3L681.4 1073.9L681.9 1070.9L681.6 1067.8L682.2 1064.8L681.4 1061.7L682.0 1058.7L682.3 1055.7L682.5 1052.7L683.4 1055.7L683.0 1058.7L682.8 1061.8L683.0 1064.8L683.7 1067.8L682.9 1070.9L683.7 1073.9L683.6 1077.2L684.1 1080.5L683.8 1083.8L684.0 1087.1L684.2 1090.3L684.5 1093.6L683.8 1096.9L684.4 1100.2L684.4 1103.5L684.8 1106.8L685.4 1103.7L685.8 1100.7L684.7 1097.6L685.7 1094.6L686.0 1091.6L685.5 1088.5L686.0 1085.5L686.1 1082.6L685.9 1079.6L686.4 1076.8L687.1 1073.9L687.2 1070.7L687.0 1067.4L687.4 1064.2L688.5 1061.1L688.2 1057.8L688.3 1054.6L689.5 1050.7L689.5 1047.5L690.3 1044.4L689.8 1041.2L690.4 1038.0L690.0 1034.8L690.3 1031.6L689.4 1028.4L690.2 1025.3L690.4 1022.1L689.5 1018.9L690.8 1015.7L689.8 1012.5L690.3 1009.3L690.0 1006.2L690.5 1003.0L690.7 999.8L690.6 996.6L690.1 993.5L691.4 990.4L690.7 987.2L691.0 984.1L691.1 980.9L690.9 977.8L690.8 974.6L691.4 971.5L691.4 968.4L691.0 965.2L691.7 962.1L691.2 958.9L690.9 955.8L691.3 952.6L691.1 949.5L691.8 946.4L691.5 943.0L692.5 939.6L692.1 936.2L693.0 932.9L692.9 929.5L692.8 926.1L693.5 929.2L692.3 932.4L692.4 935.5L693.7 938.6L692.7 941.8L693.4 944.9L693.5 948.1L692.9 951.2L694.0 954.3L693.7 957.5L693.2 960.6L693.9 963.8L694.5 960.7L694.3 957.6L695.3 954.5L695.3 951.4L695.1 948.3L695.1 951.5L695.9 954.7L695.3 958.0L695.6 961.2L696.1 964.4L696.5 967.6L695.9 970.9L696.6 974.1L696.2 977.3L696.5 980.5L696.4 983.8L697.0 987.0L697.5 990.2L697.2 993.4L697.6 996.6L698.7 1000.5L699.0 1003.5L698.7 1006.6L699.3 1009.6L698.8 1012.7L699.1 1015.7L699.6 1018.7L700.1 1021.7L701.4 1023.7L702.0 1026.7L702.5 1029.8L701.6 1033.0L702.0 1036.1L702.6 1039.1L703.5 1035.8L704.0 1032.4L704.4 1035.5L704.7 1038.7L704.3 1041.9L704.6 1045.1L704.8 1048.2L704.9 1051.4L705.3 1054.6L705.2 1057.7L706.2 1060.7L706.4 1063.8L705.6 1067.0L706.5 1070.0L707.2 1067.1L707.3 1064.0L706.3 1061.0L706.5 1057.9L707.0 1054.9L707.4 1051.9L707.8 1048.9L707.8 1045.9L709.2 1046.9L710.1 1050.2L709.9 1053.6L710.9 1056.9L710.7 1060.4L710.7 1057.4L711.9 1054.6L713.0 1058.5L713.0 1061.6L713.4 1064.6L713.6 1067.7L714.1 1070.8L714.2 1073.9L714.8 1077.8L715.4 1081.6L716.1 1084.5L716.2 1087.4L715.9 1090.4L716.5 1093.2L717.1 1090.0L716.2 1086.6L716.3 1083.4L717.4 1080.1L717.3 1076.8L717.6 1073.5L716.9 1070.2L717.3 1067.0L717.2 1063.7L717.7 1060.4L718.7 1057.6L718.8 1054.6L719.2 1051.2L720.0 1047.8L720.3 1044.6L720.9 1041.5L720.1 1038.3L720.5 1035.1L720.9 1031.9L721.3 1028.7L720.7 1025.5L720.7 1022.3L720.5 1019.1L721.2 1015.9L721.8 1012.7L720.8 1009.5L720.9 1006.3L721.6 1003.1L721.6 999.8L722.0 996.6L721.6 993.4L722.3 990.2L721.4 986.9L721.7 983.7L722.4 980.5L722.3 977.3L723.9 973.4L725.2 969.6L725.9 972.7L725.7 975.8L725.2 978.9L725.4 982.1L726.0 985.2L726.3 988.3L726.1 991.4L725.7 994.5L726.3 997.7L726.8 1000.8L726.1 1003.9L726.4 1007.0L726.6 1010.1L727.3 1007.1L727.4 1004.0L727.5 1000.9L726.9 997.8L727.5 994.7L726.9 991.6L727.0 988.5L727.3 985.4L728.1 982.3L728.2 979.2L727.4 976.1L727.6 973.0L727.7 969.9L727.8 966.9L728.1 963.8L728.7 959.9L729.7 956.0L730.3 959.2L731.0 962.4L731.0 965.7L732.0 966.7L732.1 969.7L731.9 972.7L732.4 975.7L732.2 978.8L732.7 981.8L733.4 984.8L732.8 987.8L733.3 990.8L732.9 994.0L733.8 997.1L734.3 1000.3L733.7 1003.5L733.8 1006.6L733.9 1009.8L733.4 1013.0L734.0 1016.1L733.9 1019.3L735.0 1022.4L734.5 1025.6L734.6 1028.6L734.5 1031.7L735.7 1034.7L735.9 1037.7L735.1 1040.8L735.1 1043.9L735.8 1046.9L735.4 1043.7L736.3 1040.7L735.8 1037.6L736.7 1034.5L736.7 1031.4L736.3 1028.3L736.4 1025.2L737.3 1022.1L737.1 1019.0L737.2 1015.9L737.9 1012.8L737.7 1009.6L738.0 1006.5L738.6 1003.4L738.0 1006.7L738.6 1009.9L739.0 1013.2L739.1 1016.4L739.0 1019.7L739.1 1023.0L739.0 1026.2L739.7 1029.5L739.9 1026.1L740.8 1022.8L741.0 1019.3L741.1 1015.9L741.8 1012.5L742.0 1009.0L742.3 1005.5L742.7 1002.1L742.4 998.6L743.3 995.5L743.1 992.4L743.1 989.3L743.6 986.2L743.6 983.1L744.2 980.1L743.9 977.0L744.0 974.0L743.9 970.9L744.9 967.9L745.4 964.9L744.9 961.8L745.3 964.9L745.9 968.0L746.0 971.1L746.0 974.2L746.1 977.3L747.1 946.4L747.5 700.0L748.6 520.0L749.9 432.0L751.0 470.0L752.4 465.6L753.4 520.0L754.5 512.0L756.0 580.0L758.0 627.0L760.0 605.0L761.0 800.0L761.7 1168.0L762.5 1120.0L763.3 1068.0L764.5 1120.0L766.0 1062.0L767.0 1100.0L768.3 1035.0L769.3 1080.0L770.3 1062.0L771.5 1145.0L773.0 1144.0L774.0 1080.0L775.0 1000.0L776.5 978.0L778.5 953.0L779.6 961.0L781.1 930.6L782.2 953.0L783.5 953.0L785.0 968.7L786.3 971.8L786.9 1000.0L787.4 1150.0L788.2 1175.0L788.9 1159.0L789.7 1187.0L792.0 1184.0L793.6 1158.0L795.1 1125.0L796.2 1153.0L797.1 1200.0L799.0 1231.0L800.1 1256.0L801.3 1246.0L802.9 1217.0L803.7 1252.0L805.2 1246.0L806.0 1173.0L807.1 1262.0L808.3 1215.0L809.6 1184.0L810.2 1164.0L810.7 1100.0L813.0 1095.0L814.5 1040.0L815.3 978.0L816.4 959.4L817.6 976.5L819.2 978.0L820.7 970.0L823.0 953.0L824.6 930.6L825.4 953.0L826.6 984.0L827.3 1060.0L828.5 1153.0L829.5 1100.0L831.6 1080.0L832.4 1046.0L833.9 1020.0L835.5 1024.6L837.0 993.5L839.4 978.0L841.7 956.0L843.3 959.0L844.3 937.6L845.2 800.0L845.8 640.0L847.0 575.0L849.2 590.0L850.0 681.0L850.8 585.0L853.6 550.4L854.8 600.0L855.8 628.6L857.0 680.0L858.0 800.0L859.3 899.0L860.5 880.0L861.9 861.5L863.0 875.0L863.8 953.0L865.0 959.0L866.1 984.0L867.3 975.0L868.6 961.0L869.7 953.0L870.4 984.0L871.2 1031.0L872.0 1085.0L872.6 1200.0L873.2 1278.0L874.5 1231.0L875.4 1189.0L876.3 1158.0L877.4 1187.0L878.2 1130.0L879.0 1162.0L880.0 1162.0L881.0 1206.0L882.1 1169.0L883.2 1197.0L884.1 1169.0L884.7 1116.0L886.0 1091.0L886.7 1027.7L887.5 953.0L889.0 891.0L889.8 860.0L891.0 830.0L892.5 805.0L894.0 815.0L895.3 800.0L896.5 790.0L897.8 803.0L899.2 800.0L900.5 815.0L901.5 840.0L902.3 860.0L903.0 926.8L904.6 953.0L906.1 978.0L907.4 993.5L907.9 1120.0L908.4 1244.8L909.6 1277.0L911.0 1300.0L912.3 1334.7L913.4 1290.0L914.7 1241.0L916.2 1290.0L917.6 1275.8L918.1 1164.0L918.3 1015.0L919.3 998.0L920.9 1015.0L922.0 1026.0L923.2 1054.0L924.8 1066.5L925.6 1166.0L927.1 1091.0L928.2 1094.0L929.1 1164.0L930.2 1215.0L931.5 1290.0L932.5 1296.0L934.0 1347.0L935.6 1367.0L937.2 1383.0L939.3 1392.0L941.7 1383.0L943.4 1386.0L945.5 1377.0L947.9 1302.0L948.6 1240.0L949.6 1164.0L950.5 1110.0L952.0 1085.0L953.5 1015.0L955.1 968.7L956.6 945.4L958.6 948.5L959.7 968.7L961.3 1015.0L962.8 1062.0L963.6 1083.0L964.8 1133.0L966.0 1078.0L967.0 1151.0L968.3 1103.5L969.8 1105.0L971.4 1162.5L972.5 1122.0L973.7 1095.0L974.8 1122.0L976.0 1139.0L976.8 1164.0L977.3 1206.0L978.4 1178.0L980.0 1230.8L982.2 1220.0L983.8 1169.0L984.6 1164.0L985.3 1130.0L986.1 1085.0L987.7 1054.0L990.0 1038.6L991.6 1006.0L993.4 1015.0L995.0 998.0L997.0 1009.0L998.5 999.8L1000.9 990.4L1002.4 1004.0L1004.0 1002.9L1004.8 1030.8L1006.3 1046.0L1007.4 1106.6L1009.1 1127.5L1009.9 1006.7L1011.0 1015.0L1012.5 984.0L1014.0 962.5L1016.4 922.0L1018.0 875.5L1019.0 830.0L1020.0 806.0L1021.1 830.0L1022.6 891.0L1024.2 914.0L1025.0 968.7L1026.5 999.8L1028.0 1009.0L1029.1 1046.0L1029.6 1164.0L1030.4 1199.0L1031.5 1244.8L1033.5 1215.0L1035.0 1184.0L1036.6 1172.0L1037.4 1106.6L1038.9 1085.0L1040.5 1046.0L1042.0 1025.4L1043.6 1025.4L1044.7 1061.9L1045.9 1111.0L1047.5 1065.0L1049.0 1085.0L1049.8 1091.0L1051.3 1122.0L1052.1 1162.5L1053.7 1122.0L1055.2 1107.0L1056.8 1083.0L1057.5 1085.0L1059.1 1030.8L1059.9 953.0L1061.1 924.4L1062.2 937.6L1063.8 935.3L1064.5 984.0L1065.3 1038.6L1066.9 1035.5L1068.0 1028.5L1069.2 1046.0L1070.7 1062.0L1072.3 1085.0L1072.3 1164.0L1072.8 1245.0L1074.6 1286.6L1075.5 1240.0L1076.2 1173.0L1077.7 1178.0L1079.3 1209.0L1080.8 1187.0L1083.2 1209.0L1084.7 1169.0L1085.5 1134.5L1086.6 1118.7L1087.8 1134.5L1089.4 1144.0L1090.6 1164.0L1091.7 1176.0L1094.0 1185.8L1095.6 1178.0L1097.1 1159.0L1098.7 1172.0L1099.9 1185.0L1101.5 1178.0L1102.6 1159.0L1103.4 1106.6L1105.7 1085.0L1107.2 1069.6L1108.8 1054.0L1110.3 1065.0L1112.7 1056.4L1113.4 1077.0L1115.0 1085.0L1115.0 1111.0L1116.6 1125.0L1118.1 1141.0L1119.7 1164.0L1120.4 1189.0L1122.0 1209.0L1123.9 1235.0L1125.9 1215.0L1127.4 1184.0L1129.0 1181.0L1130.0 1208.0L1131.3 1184.0L1132.9 1164.0L1133.6 1119.0L1135.2 1102.0L1137.5 1091.0L1140.0 1086.4L1141.6 1109.6L1143.0 1130.6L1144.4 1105.0L1146.3 1087.5L1147.7 1080.5L1149.1 1100.3L1151.0 1081.7L1152.8 1042.1L1154.7 1053.7L1156.1 1091.0L1157.5 1093.3L1158.9 1149.2L1160.3 1109.6L1162.1 1132.9L1163.1 1124.8L1164.9 1171.4L1166.8 1124.8L1168.4 1128.3L1170.1 1151.6L1171.5 1132.9L1172.9 1167.9L1174.7 1174.8L1176.6 1156.2L1178.2 1151.6L1179.6 1178.3L1180.5 1112.0L1181.7 1132.9L1183.1 1171.4L1184.0 1100.3L1185.9 1116.6L1187.3 1074.7L1188.9 1086.3L1191.0 1047.9L1192.4 1051.4L1193.8 1034.6L1195.2 1053.7L1196.6 1056.1L1198.0 1100.3L1198.9 1109.6L1199.9 1164.8L1201.0 1184.2L1202.7 1202.8L1204.5 1179.5L1205.9 1198.1L1207.3 1173.7L1208.5 1221.4L1209.9 1179.5L1211.1 1164.8L1212.0 1123.6L1214.3 1116.6L1216.2 1151.6L1217.6 1132.9L1219.7 1098.0L1220.8 1123.6L1222.2 1112.0L1223.6 1078.2L1225.5 1105.0L1226.9 1077.0L1228.8 1102.6L1230.6 1068.9L1232.5 1098.0L1234.3 1058.4L1236.2 1105.0L1237.6 1079.3L1239.5 1109.6L1241.3 1093.3L1242.7 1114.3L1244.1 1063.0L1245.5 1086.3L1246.9 1061.9L1248.8 1118.9L1250.2 1102.6L1252.0 1068.9L1253.4 1121.3L1255.3 1086.3L1257.2 1063.0L1259.0 1049.1L1260.4 1025.8L1262.3 1009.5L1263.2 1049.1L1264.6 1003.6L1266.3 1009.5L1267.9 1016.5L1269.8 1067.7L1271.6 1044.4L1273.5 1039.8L1274.9 1088.7L1276.7 1049.1L1279.1 1036.3L1280.5 1049.1L1281.6 1012.3L1282.8 1039.8L1283.7 1032.8L1285.1 1100.3L1286.5 1070.0L1288.4 1086.3L1289.5 1164.8L1290.7 1214.4L1290.7 1234.9L1291.4 1258.2L1292.3 1286.2L1293.0 1291.3L1294.2 1280.4L1295.4 1279.2L1295.8 1246.6L1296.5 1208.6L1297.2 1262.9L1298.2 1261.7L1299.3 1244.3L1300.0 1234.9L1301.2 1214.4L1302.4 1132.9L1303.3 1101.5L1305.2 1115.5L1306.3 1179.5L1308.2 1170.2L1310.5 1209.8L1312.1 1193.5L1314.0 1167.9L1314.7 1223.8L1316.3 1198.1L1317.5 1124.8L1319.1 1167.9L1320.5 1102.6L1322.2 1086.3L1323.8 1021.1L1325.2 938.4L1326.8 946.6L1328.0 1079.3L1329.8 1011.8L1331.5 1006.0L1333.1 1049.1L1335.0 1086.3L1336.1 1163.2L1336.4 1234.9L1337.3 1272.7L1338.0 1138.7L1338.0 1234.9L1339.6 1156.2L1342.4 1236.1L1344.3 1202.8L1346.1 1164.8L1347.1 1194.6L1348.5 1156.2L1349.4 1212.1L1350.1 1077.0L1351.3 993.2L1352.4 948.9L1354.1 993.2L1355.9 955.9L1357.6 929.6L1359.2 960.6L1360.6 965.2L1361.5 1063.0L1362.5 1116.6L1363.9 1067.7L1365.2 1039.8L1366.6 1037.4L1368.0 1053.7L1369.4 1093.3L1370.6 1179.5L1372.2 1209.8L1372.7 1124.8L1374.6 1174.8L1376.0 1183.0L1377.4 1142.2L1378.8 1165.5L1379.9 1215.6L1381.6 1132.9L1383.4 1077.0L1385.0 1102.6L1386.7 1163.2L1388.1 1184.2L1389.0 1125.9L1390.9 1079.3L1392.7 1071.2L1394.1 1102.6L1395.1 1164.8L1395.8 1234.9L1396.0 1235.4L1396.2 1234.9L1397.4 1164.8L1399.0 1100.3L1400.7 1118.9L1402.5 1100.3L1404.4 1093.3L1405.5 1084.0L1406.5 969.9L1407.4 940.1L1408.6 974.5L1410.0 1011.8L1411.8 1011.8L1413.2 1044.4L1415.1 1039.8L1417.0 1072.4L1418.4 1044.4L1420.2 1035.1L1421.1 1058.4L1422.1 1016.5L1423.5 1044.4L1424.9 1088.7L1425.8 1056.1L1427.7 1053.7L1429.3 1077.0L1430.9 1116.6L1432.3 1065.4L1433.5 1142.2L1435.6 1139.9L1437.5 1056.1L1439.3 1109.6L1440.7 1081.7L1441.9 1049.5L1443.3 1123.6L1444.9 1084.0L1446.3 1063.0L1447.9 1067.7L1449.6 1098.0L1451.4 1052.6L1452.8 1054.9L1454.2 1112.0L1456.1 1070.0L1458.0 1086.3L1459.6 1109.6L1461.2 1118.9L1462.6 1164.8L1463.5 1173.7L1465.4 1179.5L1466.8 1144.6L1468.2 1156.2L1469.6 1132.9L1471.2 1121.3L1472.9 1118.9L1475.2 1106.8L1476.6 1128.3L1478.2 1164.8L1479.4 1198.1L1480.8 1234.9L1481.2 1246.6L1482.2 1288.5L1483.3 1300.6L1484.5 1288.5L1485.9 1286.2L1487.3 1281.5L1488.2 1246.6L1489.2 1241.9L1490.1 1234.9L1491.0 1212.1L1491.3 1234.9L1491.7 1257.1L1492.2 1164.8L1492.4 1234.9L1492.9 1132.9L1494.5 1123.6L1496.1 1116.6L1497.5 1142.2L1499.2 1112.4L1500.3 1132.9L1501.7 1164.8L1502.7 1181.8L1505.0 1156.2L1506.9 1188.8L1508.7 1234.9L1509.2 1241.5L1509.7 1234.9L1510.8 1202.8L1512.0 1164.8L1513.4 1146.9L1514.3 1174.8L1515.7 1137.1L1516.6 1164.8L1518.0 1186.5L1519.4 1151.6L1521.3 1132.9L1522.7 1164.8L1524.1 1123.6L1525.5 1113.8L1526.7 1164.8L1527.8 1198.1L1528.8 1164.8L1530.2 1109.6L1531.1 1079.3L1533.0 1063.0L1535.3 1030.4L1536.7 1000.2L1538.1 993.2L1539.5 986.2L1540.6 1025.8L1541.8 1039.8L1543.4 1086.3L1544.6 1098.0L1545.8 1132.9L1546.9 1121.3L1548.1 1198.1L1549.3 1202.8L1549.7 1146.9L1551.1 1195.8L1552.7 1164.8L1553.9 1132.9L1555.3 1114.3L1556.7 1099.1L1558.1 1132.9L1559.7 1122.4L1560.9 1164.8L1562.1 1191.1L1563.2 1164.8L1564.4 1164.8L1565.6 1216.8L1567.4 1234.9L1567.9 1200.5L1567.9 1241.9L1569.8 1260.6L1570.9 1279.2L1572.1 1288.0L1573.5 1269.9L1574.9 1246.6L1575.6 1234.9L1576.0 1226.1L1577.2 1234.9L1577.7 1246.6L1579.1 1314.1L1580.5 1300.2L1581.9 1269.9L1583.3 1239.6L1584.7 1316.5L1586.1 1339.8L1587.5 1386.3L1588.6 1414.8L1589.8 1377.0L1591.2 1339.8L1592.6 1293.2L1594.0 1333.9L1594.9 1294.3L1595.8 1269.9L1596.5 1234.9L1597.0 1200.5L1598.2 1164.8L1599.8 1150.4L1601.2 1170.2L1602.8 1156.2L1604.5 1149.9L1606.1 1191.1L1606.1 1234.9L1606.6 1241.9L1608.9 1164.8L1608.9 1252.4L1609.8 1234.9L1610.3 1157.4L1611.7 1202.8L1613.3 1228.4L1614.9 1164.8L1616.3 1132.9L1617.3 1121.7L1618.7 1146.9L1620.1 1164.8L1621.5 1216.8L1622.9 1164.8L1624.0 1156.2L1625.4 1202.8L1627.0 1164.8L1628.4 1229.6L1630.3 1234.9L1630.8 1236.1L1631.2 1234.9L1631.9 1179.5L1633.8 1160.9L1635.4 1193.5L1637.3 1156.2L1638.9 1150.4L1640.1 1181.8L1641.3 1150.4L1642.4 1164.8L1643.6 1146.9L1644.5 1121.7L1645.7 1164.8L1647.1 1188.8L1648.9 1156.2L1650.8 1157.4L1651.7 1164.8L1654.1 1202.8L1655.9 1234.9L1656.4 1216.8L1656.4 1237.7L1656.9 1234.9L1661.1 1198.1L1662.5 1155.0L1664.1 1139.9L1665.5 1124.3L1666.9 1164.8L1668.5 1146.9L1669.9 1167.9L1671.1 1132.9L1672.2 1124.8L1673.6 1164.8L1675.0 1193.5L1679.2 1164.8L1680.2 1132.9L1681.6 1086.3L1683.2 1044.4L1684.3 1026.9L1686.2 1063.0L1687.6 1016.5L1689.2 996.7L1690.9 1011.8L1691.8 1063.0L1693.2 1107.3L1694.1 1164.8L1694.8 1191.1L1696.5 1198.1L1698.3 1167.9L1700.0 1212.1L1703.4 1202.8L1705.3 1226.1L1707.2 1209.8L1709.0 1174.8L1710.4 1202.8L1711.8 1164.8L1713.7 1157.4L1715.1 1209.8L1717.0 1226.1L1717.0 1234.9L1718.8 1258.2L1720.5 1272.2L1722.1 1241.9L1723.9 1259.4L1725.8 1234.9L1730.0 1123.6L1731.9 1109.6L1733.3 1130.6L1735.1 1112.0L1736.5 1164.8L1737.5 1214.4L1738.9 1160.9L1740.5 1214.4L1741.6 1234.9L1742.1 1237.3L1744.0 1253.6L1745.4 1259.4L1746.5 1269.9L1748.2 1186.5L1748.2 1246.6L1748.6 1234.9L1749.8 1202.8L1751.4 1174.8L1753.3 1174.8L1754.7 1209.8L1756.8 1216.8L1757.5 1234.9L1758.0 1177.2L1758.0 1293.2L1758.9 1339.8L1760.5 1356.1L1761.7 1344.4L1763.1 1339.8L1764.0 1326.9L1764.9 1335.1L1766.3 1325.8L1767.3 1316.5L1768.7 1307.1L1769.6 1342.1L1770.8 1311.8L1771.5 1269.9L1771.7 1234.9L1772.2 1099.8L1772.9 1118.9L1774.3 1153.9L1775.7 1123.6L1777.3 1086.3L1778.9 1093.3L1780.3 1102.6L1781.7 1107.3L1782.6 1164.8L1783.3 1186.5L1784.0 1164.8L1785.4 1122.4L1786.8 1132.9L1788.2 1179.5L1789.6 1201.6L1791.0 1164.8L1792.4 1144.6L1793.4 1132.9L1794.8 1164.8L1796.1 1202.8L1797.5 1228.4L1799.4 1202.8L1801.3 1188.8L1802.7 1202.8L1802.7 1234.9L1803.8 1251.7L1805.0 1234.9L1805.7 1226.1L1807.3 1216.8L1808.7 1193.5L1809.9 1164.8L1811.1 1149.2L1812.5 1164.8L1813.4 1179.5L1814.3 1125.9L1816.2 1102.6L1818.0 1100.3L1819.4 1091.0L1821.3 1109.6L1823.2 1086.3L1825.0 1063.0L1826.4 1051.4L1827.8 1053.7L1829.0 1081.7L1830.6 1084.0L1832.5 1102.6L1834.3 1116.6L1836.0 1109.6L1837.6 1112.0L1839.0 1142.2L1840.4 1164.8L1841.3 1124.8L1842.7 1164.8L1844.1 1195.8L1845.5 1216.8L1846.9 1228.4L1848.8 1214.4L1850.0 1164.8L1850.7 1139.9L1852.5 1125.9L1854.6 1074.7L1856.2 1044.4L1857.9 1014.6L1859.5 1039.8L1860.9 1063.0L1862.3 1086.3L1863.7 1109.6L1865.1 1102.6L1866.5 1132.9L1867.9 1156.2L1868.8 1173.7L1870.2 1160.9L1871.6 1164.8L1873.0 1178.3L1874.4 1150.4L1876.3 1164.8L1877.7 1147.4L1879.1 1164.8L1880.2 1170.2L1881.9 1184.2L1883.3 1164.8L1884.2 1212.1L1885.6 1220.3L1887.0 1179.5L1888.4 1164.8L1889.8 1156.2L1891.2 1145.7L1892.6 1164.8L1894.0 1153.9L1895.1 1167.9L1896.3 1144.1L1897.2 1179.5L1898.6 1202.8L1900.0 1198.1L1901.4 1213.3L1903.3 1214.4L1904.7 1188.8L1906.1 1164.8L1907.5 1156.2L1908.9 1142.2L1910.7 1132.9L1912.4 1119.6L1914.0 1142.2L1915.6 1132.2L1917.0 1156.2L1918.2 1158.5L1919.1 1193.5L1921.0 1174.8L1922.9 1192.3L1924.7 1179.5L1926.4 1164.8L1928.0 1206.3L1929.8 1157.4L1931.7 1151.6L1933.6 1139.9L1935.0 1164.8L1936.6 1137.6L1938.0 1186.5L1939.6 1138.7L1941.0 1156.2L1942.4 1191.1L1944.3 1202.8L1945.7 1205.1L1947.1 1188.8L1947.3 1234.9L1948.0 1251.2L1949.4 1281.5L1950.6 1297.4L1951.7 1288.5L1953.1 1281.5L1954.5 1279.2L1955.9 1274.5L1957.3 1267.5L1958.3 1246.6L1958.7 1234.9L1960.6 1164.8L1961.8 1132.9L1963.6 1123.6L1965.7 1109.6L1967.1 1123.6L1968.5 1117.8L1969.9 1144.6L1971.3 1156.2L1972.7 1164.8L1973.6 1199.3L1975.0 1160.9L1976.4 1193.5L1977.8 1164.8L1978.8 1156.2L1980.2 1130.6L1981.6 1156.2L1983.0 1172.5L1984.3 1156.2L1985.7 1179.5L1987.1 1132.9L1989.0 1127.1L1990.4 1144.6L1991.3 1165.5L1992.5 1186.0L1993.7 1142.2L1995.1 1144.6L1996.5 1170.2L1997.9 1135.7L1999.3 1156.2L2000.7 1146.9L2002.0 1181.8L2003.4 1155.0L2004.8 1198.1L2006.2 1205.1L2007.2 1164.8L2008.1 1117.3L2009.5 1132.9L2010.4 1164.8L2011.8 1202.8L2013.7 1221.4L2017.0 1177.2L2017.9 1234.9L2019.1 1265.2L2020.5 1279.7L2021.6 1258.2L2022.5 1234.9L2023.5 1234.9L2023.9 1246.6L2025.1 1255.9L2026.3 1238.4L2027.7 1253.6L2029.1 1262.9L2030.5 1278.7L2031.9 1267.5L2033.0 1248.9L2033.5 1234.9L2035.1 1191.1L2036.5 1163.2L2037.9 1164.8L2039.3 1204.0L2040.7 1164.8L2042.1 1141.1L2044.0 1146.9L2045.4 1164.8L2046.8 1179.5L2048.2 1202.8L2049.6 1214.4L2051.0 1174.8L2052.4 1223.8L2054.2 1226.1L2057.5 1200.5L2058.0 1234.9L2058.4 1246.6L2059.3 1259.4L2060.0 1234.9L2062.1 1234.9L2062.6 1246.6L2063.3 1234.9L2065.4 1207.5L2067.3 1200.5L2068.9 1223.8L2070.5 1188.8L2071.9 1202.8L2073.3 1174.8L2074.7 1155.0L2076.1 1164.8L2077.5 1198.1L2078.9 1207.5L2080.3 1179.5L2081.7 1164.8L2083.6 1156.2L2085.0 1174.8L2086.4 1164.8L2087.8 1158.5L2089.2 1167.9L2091.0 1153.9L2092.4 1164.8L2093.8 1177.2L2095.2 1184.2L2097.1 1198.1L2098.5 1181.8L2100.3 1202.8L2101.7 1214.4L2103.1 1221.4L2105.0 1229.6L2106.9 1212.1L2108.7 1209.8L2110.1 1193.5L2112.0 1198.1L2113.2 1164.8L2113.9 1125.9L2115.7 1109.6L2117.3 1095.7L2118.5 1123.6L2120.4 1109.6L2121.8 1132.9L2123.2 1144.6L2125.0 1109.6L2126.4 1132.9L2127.8 1151.6L2128.8 1178.3L2130.2 1142.2L2132.0 1135.2L2133.4 1153.9L2134.8 1134.1L2136.4 1156.2L2138.1 1163.2L2139.9 1135.2L2141.8 1156.2L2143.2 1149.2L2144.6 1163.2L2146.0 1137.6L2147.6 1156.2L2149.3 1174.8L2150.7 1160.9L2152.0 1164.8L2153.4 1179.5L2155.3 1193.5L2156.7 1223.8L2158.6 1228.4L2160.0 1212.1L2161.4 1207.5L2162.8 1179.5L2164.2 1164.8L2165.1 1132.9L2166.3 1116.6L2167.4 1105.4L2168.8 1123.6L2170.2 1121.3L2171.6 1130.6L2173.0 1121.3L2174.4 1125.9L2175.8 1146.9L2177.2 1173.7L2178.6 1164.8L2180.0 1132.9L2181.4 1119.4L2182.8 1142.2L2184.2 1156.2L2185.6 1164.8L2187.0 1188.8L2188.4 1150.4L2189.8 1179.5L2191.2 1198.1L2193.0 1207.5L2194.9 1221.4L2196.8 1233.1L2199.1 1234.9L2199.6 1234.9L2200.0 1202.8L2201.2 1254.0L2201.4 1230.7L2202.8 1244.3L2203.8 1234.9L2205.2 1226.1L2207.0 1202.8L2209.3 1234.9L2209.8 1237.3L2211.2 1188.8L2211.2 1247.3L2212.1 1241.9L2212.6 1179.5L2212.6 1234.9L2214.0 1164.8L2214.9 1157.4L2216.3 1164.8L2217.7 1191.1L2219.1 1179.5L2220.5 1164.8L2221.9 1142.2L2223.3 1124.8L2224.7 1156.2L2226.1 1164.8L2227.5 1179.5L2228.9 1146.9L2230.3 1137.6L2232.2 1132.9L2233.6 1142.2L2235.4 1125.9L2237.3 1130.6L2239.2 1116.1L2240.6 1132.9L2242.0 1117.8L2243.4 1137.6L2244.8 1128.3L2246.1 1144.6L2247.5 1160.9L2248.9 1132.9L2250.3 1123.6L2251.7 1142.2L2253.6 1121.3L2255.5 1130.6L2256.9 1122.4L2258.7 1121.3L2260.1 1132.9L2261.5 1156.2L2262.9 1164.8L2264.3 1196.3L2265.7 1164.8L2266.6 1125.9L2268.0 1102.6L2269.9 1100.3L2271.3 1109.6L2273.2 1091.0L2274.6 1072.4L2276.2 1061.2L2277.8 1077.0L2279.2 1123.6L2280.6 1125.9L2282.5 1074.7L2283.9 1109.6L2285.3 1084.0L2286.7 1102.6L2288.1 1100.3L2289.0 1132.9L2290.4 1142.2L2291.8 1164.8L2293.2 1177.2L2294.6 1191.1L2296.0 1212.1L2297.4 1179.5L2298.8 1167.9L2300.0 1202.8L2301.9 1195.8L2303.3 1174.8L2304.7 1188.8L2306.1 1164.8L2307.5 1159.0L2308.9 1191.1L2310.2 1164.8L2311.6 1159.7L2313.0 1183.0L2314.4 1164.8L2315.8 1163.2L2317.2 1179.5L2318.6 1164.8L2320.5 1164.8L2321.9 1184.2L2323.3 1164.8L2325.2 1164.8L2326.6 1179.5L2328.4 1192.3L2329.8 1164.8L2330.7 1158.1L2332.1 1184.2L2334.0 1174.8L2335.4 1159.7L2336.8 1164.8L2338.2 1163.2L2339.6 1183.0L2341.0 1188.8L2341.9 1204.0L2343.3 1164.8L2344.3 1148.8L2345.7 1190.0L2347.0 1164.8L2348.4 1160.9L2349.8 1142.2L2351.7 1139.9L2353.6 1124.8L2355.0 1142.2L2356.1 1146.9L2357.5 1130.1L2358.7 1156.2L2360.1 1164.8L2361.0 1172.5L2362.4 1144.1L2363.8 1149.2L2365.2 1158.5L2367.1 1143.4L2368.5 1156.2L2369.9 1142.2L2371.3 1156.2L2372.7 1164.8L2374.1 1192.3L2375.9 1179.5L2377.3 1192.3L2378.7 1177.2L2380.6 1192.3L2382.0 1164.8L2383.4 1156.2L2385.2 1146.9L2386.6 1142.2L2388.0 1151.6L2389.9 1139.9L2391.8 1142.2L2393.6 1135.2L2395.5 1131.8L2397.4 1135.2L2399.2 1142.2L2400.6 1164.8L2402.0 1177.2L2403.4 1179.5L2404.8 1191.1L2406.2 1200.5L2407.6 1209.8L2409.0 1191.1L2410.4 1195.8L2411.8 1181.8L2413.2 1184.2L2414.6 1164.8L2416.0 1174.8L2417.4 1164.8L2419.3 1155.7L2420.7 1164.8L2422.0 1185.3L2423.4 1164.8L2424.8 1177.2L2426.2 1164.8L2428.1 1160.9L2429.5 1164.8L2430.4 1198.1L2431.8 1207.5L2433.2 1183.0L2434.6 1212.1L2436.0 1221.4L2437.9 1225.6L2439.3 1209.8L2440.7 1198.1L2442.1 1216.8L2443.5 1191.1L2444.9 1179.5L2446.3 1202.8L2447.7 1221.4L2449.1 1233.1L2450.9 1239.6L2451.4 1243.8L2451.9 1226.1L2451.9 1239.6L2453.3 1202.8L2454.7 1186.5L2456.1 1193.5L2457.5 1179.5L2458.9 1164.8L2460.2 1155.0L2461.6 1164.8L2463.0 1188.8L2464.4 1209.8L2465.8 1223.8L2469.6 1226.1L2471.4 1212.1L2472.8 1202.8L2474.2 1179.5L2475.6 1164.8L2477.0 1160.9L2478.4 1145.7L2479.8 1164.8L2480.7 1195.8L2482.1 1164.8L2484.0 1158.5L2485.4 1185.3L2486.8 1164.8L2487.7 1184.2L2489.1 1137.6L2490.5 1164.8L2491.9 1127.8L2492.9 1179.5L2494.3 1198.1L2496.1 1212.1L2498.0 1226.1L2499.8 1234.9L2500.3 1237.7L2500.8 1234.9L2503.6 1230.7L2505.0 1164.8L2506.4 1144.6L2507.8 1109.6L2509.6 1095.7L2512.0 1088.7L2513.8 1107.3L2515.7 1085.2L2517.1 1084.0L2518.9 1065.8L2520.3 1102.6L2521.7 1109.6L2523.1 1132.9L2524.5 1156.2L2525.9 1164.8L2527.3 1158.1L2528.3 1164.8L2529.2 1223.8L2530.6 1212.1L2532.0 1179.5L2533.9 1200.5L2535.2 1172.5L2536.6 1200.5L2538.5 1195.8L2540.4 1172.5L2542.2 1209.8L2544.1 1221.4L2546.0 1246.6L2546.4 1264.1L2546.9 1246.6L2548.3 1179.5L2549.7 1164.8L2551.1 1146.9L2552.5 1123.6L2553.9 1109.6L2555.3 1105.0L2557.1 1088.7L2558.5 1063.0L2560.4 1011.8L2561.8 1039.8L2563.2 1025.8L2564.6 1051.4L2566.0 1015.3L2567.4 1030.4L2569.0 1019.3L2570.2 1093.3L2571.4 1109.6L2572.5 1164.8L2573.0 1239.6L2573.2 1243.8L2573.4 1239.6L2574.4 1164.8L2575.3 1142.2L2576.2 1118.9L2577.2 1186.5L2578.6 1164.8L2579.5 1086.3L2580.9 1051.4L2582.1 1038.6L2583.7 1051.4L2585.1 1049.1L2586.0 1123.6L2587.4 1086.3L2588.8 1074.7L2589.8 1065.8L2591.1 1109.6L2592.5 1118.9L2593.5 1156.2L2594.4 1164.8L2595.3 1146.9L2596.7 1149.2L2598.1 1164.8L2599.5 1221.4L2601.4 1230.7L2602.8 1202.8L2603.7 1164.8L2604.7 1142.2L2606.1 1132.9L2607.5 1151.6L2608.9 1123.6L2610.5 1105.4L2611.6 1149.2L2613.0 1132.9L2614.4 1153.9L2615.8 1146.9L2617.2 1164.8L2618.6 1228.4L2620.0 1221.4L2621.4 1191.1L2622.8 1164.8L2623.3 1139.9L2624.7 1142.2L2626.1 1144.6L2628.0 1116.6L2629.8 1102.6L2631.7 1081.7L2633.1 1102.6L2634.5 1086.3L2635.9 1078.2L2637.3 1128.3L2639.1 1086.3L2641.0 1077.0L2642.6 1063.0L2644.3 1081.7L2645.7 1105.0L2647.5 1084.0L2649.1 1068.9L2650.8 1077.0L2652.2 1072.4L2654.0 1086.3L2655.4 1102.6L2657.3 1098.0L2658.7 1109.6L2659.6 1127.1L2661.0 1109.6L2662.4 1121.3L2663.8 1086.3L2665.2 1051.4L2666.6 1021.1L2668.0 1011.8L2669.4 1014.1L2670.6 1002.5L2672.2 1021.1L2673.6 1018.8L2675.0 1039.8L2676.9 1049.1L2678.3 1063.0L2680.1 1051.4L2681.5 1074.7L2683.4 1065.4L2684.8 1156.2L2686.2 1164.8L2687.1 1234.9L2687.3 1235.4L2687.6 1234.9L2688.5 1164.8L2689.4 1128.3L2690.8 1086.3L2691.8 1065.4L2693.3 1000.0L2694.4 930.0L2695.4 800.0L2696.5 694.0L2697.7 659.0L2697.9 1164.0" fill="none" stroke="#69a5cf" stroke-opacity="0.95" stroke-width="1.9" stroke-linejoin="round"/>
</g>
<defs><clipPath id="gclip"><path d="M2715 1741.8L2745 1735.1V1700H2790V1765H2715Z"/></clipPath><clipPath id="eclip"><rect x="3060" y="1680" width="70" height="33.9"/><path d="M3060 1713.5H3098V1718.9L3125 1725.9V1760H3060Z"/></clipPath><filter id="wmblur" x="-5%" y="-5%" width="110%" height="110%"><feGaussianBlur stdDeviation="1.6"/></filter></defs>
<g opacity="0.078" filter="url(#wmblur)"><g color="#000" transform="translate(-8986.3 -5300.8) scale(3.626)">
<circle cx="2747.95" cy="1710.35" r="18.45" fill="none" stroke="currentColor" stroke-width="8.4"/>
<path d="M2762.1 1691.4L2770.7 1688.9L2770.7 1728.2L2762.1 1728.2Z" stroke="none" fill="currentColor"/>
<path d="M2766.4 1725 V1727.7 A18.8 19 0 0 1 2729.53 1733.57" fill="none" stroke="currentColor" stroke-width="8.6" clip-path="url(#gclip)"/>
<path d="M2780 1672.3L2788.8 1670.2L2788.8 1731.9L2780 1731.9Z" stroke="none" fill="currentColor"/>
<circle cx="2818.65" cy="1710.35" r="18.45" fill="none" stroke="currentColor" stroke-width="8.4"/>
<path d="M2833 1691L2841.4 1688.9L2841.4 1731.9L2833 1731.9Z" stroke="none" fill="currentColor"/>
<path d="M2877.4 1700.0 C2875.2 1694.8,2870.5 1691.9,2865.2 1691.9 C2858.6 1691.9,2853.9 1695.6,2853.9 1700.6 C2853.9 1706.2,2858.2 1708.6,2865.6 1711.3 C2873.2 1714.0,2877.9 1716.6,2877.9 1722.4 C2877.9 1726.6,2872.6 1728.8,2865.2 1728.8 C2858.6 1728.8,2854.2 1725.8,2851.6 1720.0" fill="none" stroke="currentColor" stroke-width="8.4"/>
<path d="M2913.3 1700.0 C2911.1 1694.8,2906.4 1691.9,2901.1 1691.9 C2894.5 1691.9,2889.8 1695.6,2889.8 1700.6 C2889.8 1706.2,2894.1 1708.6,2901.5 1711.3 C2909.1 1714.0,2913.8 1716.6,2913.8 1722.4 C2913.8 1726.6,2908.5 1728.8,2901.1 1728.8 C2894.5 1728.8,2890.1 1725.8,2887.5 1720.0" fill="none" stroke="currentColor" stroke-width="8.4"/>
<path d="M2924.2 1691L2932.8 1688.9L2932.8 1731.9L2924.2 1731.9Z" stroke="none" fill="currentColor"/>
<path d="M2928.5 1707 A14.87 14.95 0 0 1 2958.25 1707 V1731.9" fill="none" stroke="currentColor" stroke-width="8.5"/>
<circle cx="2991.35" cy="1710.35" r="18.35" fill="none" stroke="currentColor" stroke-width="8.5"/>
<circle cx="3041.25" cy="1710.35" r="18.45" fill="none" stroke="currentColor" stroke-width="8.4"/>
<path d="M3055.4 1674.7L3064 1672.6L3064 1731.9L3055.4 1731.9Z" stroke="none" fill="currentColor"/>
<path d="M3110.40 1716.04 A18.4 18.4 0 1 1 3111.30 1710.35 V1713.8" fill="none" stroke="currentColor" stroke-width="8.5" clip-path="url(#eclip)"/>
<path d="M3078 1707.1H3114 V1713.8H3078Z" fill="currentColor" stroke="none"/>
</g></g>
<path d="M332.7 365V1463.8" stroke="#7d7d7d" stroke-width="2.2" fill="none"/>
<path d="M2709.5 365V1464.5" stroke="#f28e78" stroke-width="2.2" fill="none"/>
<path d="M2858.6 365V1464.5" stroke="#65a1cd" stroke-width="4.6" fill="none"/>
<path d="M479.3 1464.5V1491M618.4 1464.5V1491M757.6 1464.5V1491M896.7 1464.5V1491M1035.9 1464.5V1491M1175.0 1464.5V1491M1314.1 1464.5V1491M1453.3 1464.5V1491M1592.4 1464.5V1491M1731.6 1464.5V1491M1870.7 1464.5V1491M2009.8 1464.5V1491M2149.0 1464.5V1491M2288.1 1464.5V1491M2427.3 1464.5V1491M2566.4 1464.5V1491" stroke="#e6e6e6" stroke-width="2.4" fill="none"/>
<text x="479.1" y="1530.4" font-size="33" text-anchor="middle" fill="#373d4b" textLength="70.6" lengthAdjust="spacingAndGlyphs" stroke="#373d4b" stroke-width="0.2">2010</text>
<text x="618.2" y="1530.4" font-size="33" text-anchor="middle" fill="#373d4b" textLength="70.6" lengthAdjust="spacingAndGlyphs" stroke="#373d4b" stroke-width="0.2">2011</text>
<text x="757.4" y="1530.4" font-size="33" text-anchor="middle" fill="#373d4b" textLength="70.6" lengthAdjust="spacingAndGlyphs" stroke="#373d4b" stroke-width="0.2">2012</text>
<text x="896.5" y="1530.4" font-size="33" text-anchor="middle" fill="#373d4b" textLength="70.6" lengthAdjust="spacingAndGlyphs" stroke="#373d4b" stroke-width="0.2">2013</text>
<text x="1035.7" y="1530.4" font-size="33" text-anchor="middle" fill="#373d4b" textLength="70.6" lengthAdjust="spacingAndGlyphs" stroke="#373d4b" stroke-width="0.2">2014</text>
<text x="1174.8" y="1530.4" font-size="33" text-anchor="middle" fill="#373d4b" textLength="70.6" lengthAdjust="spacingAndGlyphs" stroke="#373d4b" stroke-width="0.2">2015</text>
<text x="1313.9" y="1530.4" font-size="33" text-anchor="middle" fill="#373d4b" textLength="70.6" lengthAdjust="spacingAndGlyphs" stroke="#373d4b" stroke-width="0.2">2016</text>
<text x="1453.1" y="1530.4" font-size="33" text-anchor="middle" fill="#373d4b" textLength="70.6" lengthAdjust="spacingAndGlyphs" stroke="#373d4b" stroke-width="0.2">2017</text>
<text x="1592.2" y="1530.4" font-size="33" text-anchor="middle" fill="#373d4b" textLength="70.6" lengthAdjust="spacingAndGlyphs" stroke="#373d4b" stroke-width="0.2">2018</text>
<text x="1731.4" y="1530.4" font-size="33" text-anchor="middle" fill="#373d4b" textLength="70.6" lengthAdjust="spacingAndGlyphs" stroke="#373d4b" stroke-width="0.2">2019</text>
<text x="1870.5" y="1530.4" font-size="33" text-anchor="middle" fill="#373d4b" textLength="70.6" lengthAdjust="spacingAndGlyphs" stroke="#373d4b" stroke-width="0.2">2020</text>
<text x="2009.6" y="1530.4" font-size="33" text-anchor="middle" fill="#373d4b" textLength="70.6" lengthAdjust="spacingAndGlyphs" stroke="#373d4b" stroke-width="0.2">2021</text>
<text x="2148.8" y="1530.4" font-size="33" text-anchor="middle" fill="#373d4b" textLength="70.6" lengthAdjust="spacingAndGlyphs" stroke="#373d4b" stroke-width="0.2">2022</text>
<text x="2287.9" y="1530.4" font-size="33" text-anchor="middle" fill="#373d4b" textLength="70.6" lengthAdjust="spacingAndGlyphs" stroke="#373d4b" stroke-width="0.2">2023</text>
<text x="2427.1" y="1530.4" font-size="33" text-anchor="middle" fill="#373d4b" textLength="70.6" lengthAdjust="spacingAndGlyphs" stroke="#373d4b" stroke-width="0.2">2024</text>
<text x="2566.2" y="1530.4" font-size="33" text-anchor="middle" fill="#373d4b" textLength="70.6" lengthAdjust="spacingAndGlyphs" stroke="#373d4b" stroke-width="0.2">2025</text>
<text x="297.3" y="424.2" font-size="30" text-anchor="end" fill="#373d4b" textLength="80.1" lengthAdjust="spacingAndGlyphs" stroke="#373d4b" stroke-width="0.2">$100k</text>
<text x="297.3" y="588.2" font-size="30" text-anchor="end" fill="#373d4b" textLength="63.0" lengthAdjust="spacingAndGlyphs" stroke="#373d4b" stroke-width="0.2">$10k</text>
<text x="297.3" y="752.2" font-size="30" text-anchor="end" fill="#373d4b" textLength="45.0" lengthAdjust="spacingAndGlyphs" stroke="#373d4b" stroke-width="0.2">$1k</text>
<text x="297.3" y="916.2" font-size="30" text-anchor="end" fill="#373d4b" textLength="67.1" lengthAdjust="spacingAndGlyphs" stroke="#373d4b" stroke-width="0.2">$100</text>
<text x="297.3" y="1080.2" font-size="30" text-anchor="end" fill="#373d4b" textLength="49.4" lengthAdjust="spacingAndGlyphs" stroke="#373d4b" stroke-width="0.2">$10</text>
<text x="297.3" y="1244.2" font-size="30" text-anchor="end" fill="#373d4b" textLength="31.1" lengthAdjust="spacingAndGlyphs" stroke="#373d4b" stroke-width="0.2">$1</text>
<text x="297.3" y="1408.2" font-size="30" text-anchor="end" fill="#373d4b" textLength="72.2" lengthAdjust="spacingAndGlyphs" stroke="#373d4b" stroke-width="0.2">$0.10</text>
<text x="2742.1" y="460.9" font-size="30" text-anchor="start" fill="#373d4b" textLength="66.4" lengthAdjust="spacingAndGlyphs" stroke="#373d4b" stroke-width="0.2">3.5M</text>
<text x="2742.1" y="605.6" font-size="30" text-anchor="start" fill="#373d4b" textLength="44.3" lengthAdjust="spacingAndGlyphs" stroke="#373d4b" stroke-width="0.2">3M</text>
<text x="2742.1" y="750.3" font-size="30" text-anchor="start" fill="#373d4b" textLength="66.9" lengthAdjust="spacingAndGlyphs" stroke="#373d4b" stroke-width="0.2">2.5M</text>
<text x="2742.1" y="895.0" font-size="30" text-anchor="start" fill="#373d4b" textLength="43.0" lengthAdjust="spacingAndGlyphs" stroke="#373d4b" stroke-width="0.2">2M</text>
<text x="2741.1" y="1039.7" font-size="30" text-anchor="start" fill="#373d4b" textLength="63.5" lengthAdjust="spacingAndGlyphs" stroke="#373d4b" stroke-width="0.2">1.5M</text>
<text x="2741.1" y="1184.4" font-size="30" text-anchor="start" fill="#373d4b" textLength="39.9" lengthAdjust="spacingAndGlyphs" stroke="#373d4b" stroke-width="0.2">1M</text>
<text x="2742.1" y="1329.1" font-size="30" text-anchor="start" fill="#373d4b" textLength="73.0" lengthAdjust="spacingAndGlyphs" stroke="#373d4b" stroke-width="0.2">500K</text>
<text x="2742.1" y="1473.8" font-size="30" text-anchor="start" fill="#373d4b" textLength="18.5" lengthAdjust="spacingAndGlyphs" stroke="#373d4b" stroke-width="0.2">0</text>
<text x="2897.0" y="1473.5" font-size="30" text-anchor="start" fill="#373d4b" textLength="79.0" lengthAdjust="spacingAndGlyphs" stroke="#373d4b" stroke-width="0.2">-150K</text>
<text x="2897.0" y="1373.6" font-size="30" text-anchor="start" fill="#373d4b" textLength="79.9" lengthAdjust="spacingAndGlyphs" stroke="#373d4b" stroke-width="0.2">-100K</text>
<text x="2897.0" y="1273.7" font-size="30" text-anchor="start" fill="#373d4b" textLength="66.4" lengthAdjust="spacingAndGlyphs" stroke="#373d4b" stroke-width="0.2">-50K</text>
<text x="2897.0" y="1173.8" font-size="30" text-anchor="start" fill="#373d4b" textLength="18.5" lengthAdjust="spacingAndGlyphs" stroke="#373d4b" stroke-width="0.2">0</text>
<text x="2897.0" y="1073.9" font-size="30" text-anchor="start" fill="#373d4b" textLength="53.6" lengthAdjust="spacingAndGlyphs" stroke="#373d4b" stroke-width="0.2">50K</text>
<text x="2896.0" y="974.0" font-size="30" text-anchor="start" fill="#373d4b" textLength="69.3" lengthAdjust="spacingAndGlyphs" stroke="#373d4b" stroke-width="0.2">100K</text>
<text x="2896.0" y="874.1" font-size="30" text-anchor="start" fill="#373d4b" textLength="68.4" lengthAdjust="spacingAndGlyphs" stroke="#373d4b" stroke-width="0.2">150K</text>
<text x="2897.0" y="774.2" font-size="30" text-anchor="start" fill="#373d4b" textLength="71.7" lengthAdjust="spacingAndGlyphs" stroke="#373d4b" stroke-width="0.2">200K</text>
<text x="2897.0" y="674.3" font-size="30" text-anchor="start" fill="#373d4b" textLength="70.8" lengthAdjust="spacingAndGlyphs" stroke="#373d4b" stroke-width="0.2">250K</text>
<text x="2897.0" y="574.4" font-size="30" text-anchor="start" fill="#373d4b" textLength="72.6" lengthAdjust="spacingAndGlyphs" stroke="#373d4b" stroke-width="0.2">300K</text>
<text x="2897.0" y="474.5" font-size="30" text-anchor="start" fill="#373d4b" textLength="71.7" lengthAdjust="spacingAndGlyphs" stroke="#373d4b" stroke-width="0.2">350K</text>
<text x="2897.0" y="374.6" font-size="30" text-anchor="start" fill="#373d4b" textLength="72.2" lengthAdjust="spacingAndGlyphs" stroke="#373d4b" stroke-width="0.2">400K</text>
<text x="79.6" y="129.5" font-size="62" text-anchor="start" fill="#000" textLength="138.1" lengthAdjust="spacingAndGlyphs">BTC:</text>
<text x="233.1" y="129.5" font-size="62" text-anchor="start" fill="#000" textLength="161.1" lengthAdjust="spacingAndGlyphs">Shark</text>
<text x="411.9" y="129.5" font-size="62" text-anchor="start" fill="#000" textLength="100.2" lengthAdjust="spacingAndGlyphs">Net</text>
<text x="531.0" y="129.5" font-size="62" text-anchor="start" fill="#000" textLength="226.3" lengthAdjust="spacingAndGlyphs">Position</text>
<text x="772.8" y="129.5" font-size="62" text-anchor="start" fill="#000" textLength="219.9" lengthAdjust="spacingAndGlyphs">Change</text>
<text x="1013.4" y="129.5" font-size="62" text-anchor="start" fill="#000" textLength="228.2" lengthAdjust="spacingAndGlyphs">[Entities</text>
<text x="1256.7" y="129.5" font-size="62" text-anchor="start" fill="#000" textLength="104.1" lengthAdjust="spacingAndGlyphs">100</text>
<text x="1379.7" y="129.5" font-size="62" text-anchor="start" fill="#000" textLength="56.1" lengthAdjust="spacingAndGlyphs">to</text>
<text x="1450.3" y="129.5" font-size="62" text-anchor="start" fill="#000" textLength="62.3" lengthAdjust="spacingAndGlyphs">1k</text>
<text x="1529.3" y="129.5" font-size="62" text-anchor="start" fill="#000" textLength="140.3" lengthAdjust="spacingAndGlyphs">BTC]</text>
<circle cx="104" cy="216.3" r="7.95" fill="#8a8a8a"/>
<text x="119.8" y="224.8" font-size="26" text-anchor="start" fill="#1c1c1c" textLength="185.5" lengthAdjust="spacingAndGlyphs" stroke="#1c1c1c" stroke-width="0.25">BTC: Price [USD]</text>
<circle cx="352.2" cy="216.3" r="7.95" fill="#f28b74"/>
<text x="368" y="224.8" font-size="26" text-anchor="start" fill="#1c1c1c" textLength="618" lengthAdjust="spacingAndGlyphs" stroke="#1c1c1c" stroke-width="0.25">BTC: Supply Held by Entities with Balance 100 - 1k [BTC]</text>
<path d="M1068.5 217.3H1076" stroke="#222" stroke-width="2"/>
<circle cx="1118" cy="216.3" r="7.95" fill="#66a2ce"/>
<text x="1134.3" y="224.8" font-size="26" text-anchor="start" fill="#1c1c1c" textLength="372" lengthAdjust="spacingAndGlyphs" stroke="#1c1c1c" stroke-width="0.25">Shark Supply Net Position Change</text>
<text x="78.6" y="1720" font-size="41.5" text-anchor="start" fill="#808080" textLength="718.5" lengthAdjust="spacingAndGlyphs" stroke="#808080" stroke-width="0.6">© 2025 Glassnode. All Rights Reserved.</text>
<g color="#1b1b1b">
<circle cx="2747.95" cy="1710.35" r="18.45" fill="none" stroke="currentColor" stroke-width="8.4"/>
<path d="M2762.1 1691.4L2770.7 1688.9L2770.7 1728.2L2762.1 1728.2Z" stroke="none" fill="currentColor"/>
<path d="M2766.4 1725 V1727.7 A18.8 19 0 0 1 2729.53 1733.57" fill="none" stroke="currentColor" stroke-width="8.6" clip-path="url(#gclip)"/>
<path d="M2780 1672.3L2788.8 1670.2L2788.8 1731.9L2780 1731.9Z" stroke="none" fill="currentColor"/>
<circle cx="2818.65" cy="1710.35" r="18.45" fill="none" stroke="currentColor" stroke-width="8.4"/>
<path d="M2833 1691L2841.4 1688.9L2841.4 1731.9L2833 1731.9Z" stroke="none" fill="currentColor"/>
<path d="M2877.4 1700.0 C2875.2 1694.8,2870.5 1691.9,2865.2 1691.9 C2858.6 1691.9,2853.9 1695.6,2853.9 1700.6 C2853.9 1706.2,2858.2 1708.6,2865.6 1711.3 C2873.2 1714.0,2877.9 1716.6,2877.9 1722.4 C2877.9 1726.6,2872.6 1728.8,2865.2 1728.8 C2858.6 1728.8,2854.2 1725.8,2851.6 1720.0" fill="none" stroke="currentColor" stroke-width="8.4"/>
<path d="M2913.3 1700.0 C2911.1 1694.8,2906.4 1691.9,2901.1 1691.9 C2894.5 1691.9,2889.8 1695.6,2889.8 1700.6 C2889.8 1706.2,2894.1 1708.6,2901.5 1711.3 C2909.1 1714.0,2913.8 1716.6,2913.8 1722.4 C2913.8 1726.6,2908.5 1728.8,2901.1 1728.8 C2894.5 1728.8,2890.1 1725.8,2887.5 1720.0" fill="none" stroke="currentColor" stroke-width="8.4"/>
<path d="M2924.2 1691L2932.8 1688.9L2932.8 1731.9L2924.2 1731.9Z" stroke="none" fill="currentColor"/>
<path d="M2928.5 1707 A14.87 14.95 0 0 1 2958.25 1707 V1731.9" fill="none" stroke="currentColor" stroke-width="8.5"/>
<circle cx="2991.35" cy="1710.35" r="18.35" fill="none" stroke="currentColor" stroke-width="8.5"/>
<circle cx="3041.25" cy="1710.35" r="18.45" fill="none" stroke="currentColor" stroke-width="8.4"/>
<path d="M3055.4 1674.7L3064 1672.6L3064 1731.9L3055.4 1731.9Z" stroke="none" fill="currentColor"/>
<path d="M3110.40 1716.04 A18.4 18.4 0 1 1 3111.30 1710.35 V1713.8" fill="none" stroke="currentColor" stroke-width="8.5" clip-path="url(#eclip)"/>
<path d="M3078 1707.1H3114 V1713.8H3078Z" fill="currentColor" stroke="none"/>
</g>
</svg>
</body></html>
